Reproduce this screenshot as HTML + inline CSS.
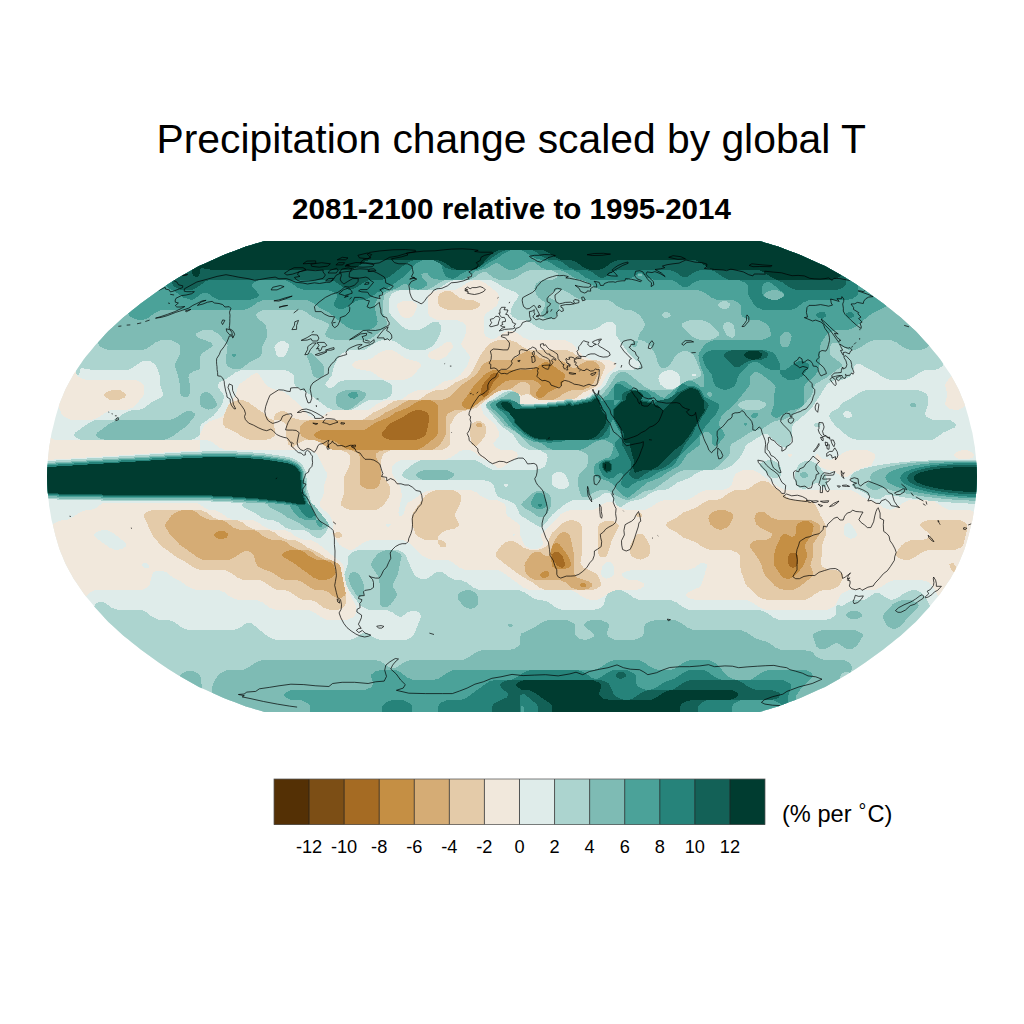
<!DOCTYPE html>
<html><head><meta charset="utf-8"><title>Precipitation change scaled by global T</title>
<style>
html,body{margin:0;padding:0;background:#fff;}
body{width:1024px;height:1024px;overflow:hidden;position:relative;font-family:"Liberation Sans",sans-serif;}
svg{position:absolute;left:0;top:0;}
text{font-family:"Liberation Sans",sans-serif;fill:#000;}
</style></head><body>
<svg width="1024" height="1024" viewBox="0 0 1024 1024">
<defs><clipPath id="rob"><path d="M759.5,712.0 L764.1,710.6 L768.8,709.2 L773.4,707.8 L778.1,706.4 L783.8,704.2 L789.5,702.1 L795.2,699.9 L800.9,697.7 L806.9,695.0 L813.0,692.3 L819.0,689.6 L825.0,686.9 L830.3,684.0 L835.6,681.0 L840.9,678.1 L846.1,675.1 L850.9,672.0 L855.7,668.9 L860.5,665.7 L865.3,662.6 L869.8,659.3 L874.3,656.1 L878.8,652.8 L883.3,649.5 L887.6,646.1 L891.8,642.7 L896.0,639.3 L900.3,635.9 L904.1,632.4 L907.9,628.9 L911.7,625.4 L915.6,621.9 L918.9,618.4 L922.2,614.8 L925.4,611.3 L928.7,607.7 L931.7,604.1 L934.6,600.5 L937.6,596.9 L940.5,593.3 L943.0,589.6 L945.4,586.0 L947.9,582.3 L950.4,578.7 L952.4,575.1 L954.4,571.4 L956.4,567.8 L958.4,564.1 L959.9,560.5 L961.4,556.8 L962.9,553.2 L964.4,549.5 L965.5,545.9 L966.6,542.2 L967.7,538.6 L968.7,534.9 L969.6,531.3 L970.5,527.6 L971.4,524.0 L972.4,520.3 L973.0,516.7 L973.6,513.0 L974.2,509.4 L974.9,505.7 L975.2,502.1 L975.6,498.4 L976.0,494.8 L976.3,491.1 L976.5,487.5 L976.7,483.8 L976.8,480.2 L977.0,476.5 L976.8,472.8 L976.7,469.2 L976.5,465.5 L976.3,461.9 L976.0,458.2 L975.6,454.6 L975.2,450.9 L974.9,447.3 L974.2,443.6 L973.6,440.0 L973.0,436.3 L972.4,432.7 L971.4,429.0 L970.5,425.4 L969.6,421.7 L968.7,418.1 L967.7,414.4 L966.6,410.8 L965.5,407.1 L964.4,403.5 L962.9,399.8 L961.4,396.2 L959.9,392.5 L958.4,388.9 L956.4,385.2 L954.4,381.6 L952.4,377.9 L950.4,374.3 L947.9,370.7 L945.4,367.0 L943.0,363.4 L940.5,359.7 L937.6,356.1 L934.6,352.5 L931.7,348.9 L928.7,345.3 L925.4,341.7 L922.2,338.2 L918.9,334.6 L915.6,331.1 L911.7,327.6 L907.9,324.1 L904.1,320.6 L900.3,317.1 L896.0,313.7 L891.8,310.3 L887.6,306.9 L883.3,303.5 L878.8,300.2 L874.3,296.9 L869.8,293.7 L865.3,290.4 L860.5,287.3 L855.7,284.1 L850.9,281.0 L846.1,277.9 L840.9,274.9 L835.6,272.0 L830.3,269.0 L825.0,266.1 L819.0,263.4 L813.0,260.7 L806.9,258.0 L800.9,255.3 L795.2,253.1 L789.5,250.9 L783.8,248.8 L778.1,246.6 L773.4,245.2 L768.8,243.8 L764.1,242.4 L759.5,241.0 L264.5,241.0 L259.9,242.4 L255.2,243.8 L250.6,245.2 L245.9,246.6 L240.2,248.8 L234.5,250.9 L228.8,253.1 L223.1,255.3 L217.1,258.0 L211.0,260.7 L205.0,263.4 L199.0,266.1 L193.7,269.0 L188.4,272.0 L183.1,274.9 L177.9,277.9 L173.1,281.0 L168.3,284.1 L163.5,287.3 L158.7,290.4 L154.2,293.7 L149.7,296.9 L145.2,300.2 L140.7,303.5 L136.4,306.9 L132.2,310.3 L128.0,313.7 L123.7,317.1 L119.9,320.6 L116.1,324.1 L112.3,327.6 L108.4,331.1 L105.1,334.6 L101.8,338.2 L98.6,341.7 L95.3,345.3 L92.3,348.9 L89.4,352.5 L86.4,356.1 L83.5,359.7 L81.0,363.4 L78.6,367.0 L76.1,370.7 L73.6,374.3 L71.6,377.9 L69.6,381.6 L67.6,385.2 L65.6,388.9 L64.1,392.5 L62.6,396.2 L61.1,399.8 L59.6,403.5 L58.5,407.1 L57.4,410.8 L56.3,414.4 L55.3,418.1 L54.4,421.7 L53.5,425.4 L52.6,429.0 L51.6,432.7 L51.0,436.3 L50.4,440.0 L49.8,443.6 L49.1,447.3 L48.8,450.9 L48.4,454.6 L48.0,458.2 L47.7,461.9 L47.5,465.5 L47.3,469.2 L47.2,472.8 L47.0,476.5 L47.2,480.2 L47.3,483.8 L47.5,487.5 L47.7,491.1 L48.0,494.8 L48.4,498.4 L48.8,502.1 L49.1,505.7 L49.8,509.4 L50.4,513.0 L51.0,516.7 L51.6,520.3 L52.6,524.0 L53.5,527.6 L54.4,531.3 L55.3,534.9 L56.3,538.6 L57.4,542.2 L58.5,545.9 L59.6,549.5 L61.1,553.2 L62.6,556.8 L64.1,560.5 L65.6,564.1 L67.6,567.8 L69.6,571.4 L71.6,575.1 L73.6,578.7 L76.1,582.3 L78.6,586.0 L81.0,589.6 L83.5,593.3 L86.4,596.9 L89.4,600.5 L92.3,604.1 L95.3,607.7 L98.6,611.3 L101.8,614.8 L105.1,618.4 L108.4,621.9 L112.3,625.4 L116.1,628.9 L119.9,632.4 L123.7,635.9 L128.0,639.3 L132.2,642.7 L136.4,646.1 L140.7,649.5 L145.2,652.8 L149.7,656.1 L154.2,659.3 L158.7,662.6 L163.5,665.7 L168.3,668.9 L173.1,672.0 L177.9,675.1 L183.1,678.1 L188.4,681.0 L193.7,684.0 L199.0,686.9 L205.0,689.6 L211.0,692.3 L217.1,695.0 L223.1,697.7 L228.8,699.9 L234.5,702.1 L240.2,704.2 L245.9,706.4 L250.6,707.8 L255.2,709.2 L259.9,710.6 L264.5,712.0Z"/></clipPath></defs>
<text id="title" x="511.2" y="152.6" font-size="40.82" text-anchor="middle">Precipitation change scaled by global T</text>
<text id="sub" x="511.5" y="219" font-size="29.57" font-weight="bold" text-anchor="middle">2081-2100 relative to 1995-2014</text>
<g clip-path="url(#rob)" shape-rendering="crispEdges">
<rect x="40" y="236" width="944" height="480" fill="#dfecea"/>
<path fill="#acd4cf" d="M66,240.5l886,0 0,5 -2,11 0,28 -2,12 0,28 -2,10 0,10 -2,10 0,8 -1,3 -4.5,3 -4,1.5 -8,0 -3,0.5 -4,2 -8,5.5 -4,1.5 -4,0.5 -12,0 -5,-1 -4,-2 -6,-4.5 -11,-5 -6,-4 -3,0 -2,2 -2.5,8 -2.5,3.5 -6,2.5 -10,1 -4,2 -2.5,2 -13.5,21 -10,10 -10.5,9 -1,2 0,9 -1.5,7 -1.5,3 -2.5,2 -2,0 -2,-0.5 -15,-12.5 -3,-1 -17,10.5 -2,2.5 -3,7 -2,3 -9,9 -5,3 -5,1.5 -16,0 -5,1 -4,2 -7,5 -12,4.5 -9,6 -4,1.5 -6,0 -4,1 -4,2 -7,5 -4,1.5 -9,1.5 -3,1.5 -5,3.5 -2,1 -2,-0.5 -1.5,-1 -1.5,-2 -3.5,-8 -2,-2 -2.5,-1 -3,0.5 -6,4.5 -5,2 -18,0.5 -4,0.5 -4,2 -3,2 -12,10 -9,11 -2,1 -2,0.5 -18,-11 -2,-2.5 -3,-7 -2.5,-3 -3.5,-2 -9,-3 -3.5,-2 -2,-3 -2.5,-8.5 -2,-2 -4,-2 -6,-1 -71,0 -3,-0.5 -4,-2 -1,-1 -0.5,-2 2,-3 10.5,-8.5 5,-2.5 4,-0.5 51,0 6,2.5 8,5.5 4,1.5 3,0.5 39,0 5,-1 5,-2.5 1.5,-3 1.5,-6 -0.5,-2 -1,-2 -5.5,-3 -12,-1 -6.5,-3 -2.5,-2.5 -6.5,-9.5 -11,-8 -3,-3 -12,-15 -1.5,-2 0,-2 2,-2 9,-5 7,-5 6,-2 5,1 4,2.5 1.5,2.5 0,7 2.5,0.5 11,0.5 1,-1 12,0 1,-1 8,-0.5 1,-0.5 7,-0.5 3,-2 5,0.5 1,0.5 4,0.5 1,-1 3,0 1,-1 4,0 1,-1 3,-0.5 3,-3 1,0 1,-1 4,-0.5 6.5,-7 5,-10 3.5,-3 6,-2.5 13,0 6,-2.5 1.5,-2 0,-2 -10.5,-9 -7.5,-10 -5.5,-9 -1,-10 -3,-3 -3,-1 -2,0 -3,1.5 -7,5 -6,2 -45,0 -6,-1 -3,-1.5 -9,-6 -4,-1.5 -7,-0.5 -5.5,-3 -1.5,-3 1,-6 2,-4 4.5,-6 0.5,-2 0,-1 -3,-2.5 -11,-4 -8,-5.5 -6,-2.5 -36,0 -6,2 -8,5.5 -6,2.5 -32,0 -4,0.5 -4,1.5 -2.5,1.5 -1.5,2 -1,2 -1,8 1,7 1.5,3 10.5,10.5 4,2.5 4,1.5 6,0 4,-0.5 5,-2 8,-5.5 3,-0.5 3,1 2.5,3 0,5 -2,6 -5,8 -3.5,3 -5,2 -4,0.5 -11,0 -6,-2 -7,-5 -4,-2 -4,-1 -7,0 -6,2 -8,5.5 -4,2 -4,0.5 -10,0 -4,1 -4.5,2.5 -3.5,4 -4.5,8 -2.5,10.5 -5,6 -1,2.5 1,2 1,1 3,0.5 3.5,-1.5 4.5,-4.5 7,-2 33,0 5,0.5 6,2.5 1.5,1.5 1,2 0,5 -0.5,3 -1.5,2 -3.5,2 -5,1.5 -10,0 -4,0.5 -4,2 -7,5 -5,2 -4,0.5 -14,0 -6,-2.5 -20,-14.5 -11.5,-6.5 -2,-3 -0.5,-8 -1.5,-2 -3.5,-2 -3,-1 -4,-0.5 -40,0 -6,2.5 -7,5 -9,5 -2,2 0,1 0.5,2 4.5,6 1,2 0,3 -1.5,6 -2,3 -6.5,8 -12.5,9 -1,2 -0.5,8 -1.5,2 -3.5,2 -3,1 -4,0.5 -106,0 -6,-2.5 -1,-1 -0.5,-2 1.5,-2 14,-10 4,-2 3,-0.5 17,-0.5 5,-2 6,-4.5 4,-2 4,-1 6,0 4,-1.5 3,-1.5 6,-4.5 9,-5 2,-2 0.5,-2 -3,-9 -0.5,-10 -2.5,-7 -3,-4 -3.5,-2 -3,-1 -3,0 -3,1 -9,6 -4,2 -3,0.5 -32,0 -8,-1 -4,-1.5 -1,1.5 -1,4.5 -1,1.5 -1,0 -1,-1 -2,-7 -2.5,-12.5 0,-19 -2,-11 0,-19 -2,-12 0,-28 -2,-12zM279.5,341.5l-2,1 -2,2 -1,3 2,7 2,2.5 3,0.5 2.5,-1 2,-2 2.5,-6 0.5,-3 -1,-2 -3.5,-2 -2,-0.5zM666.5,370.5l-5,2 -2.5,3 -0.5,3 2,6 3,3 5,2 4,-0.5 4,-1.5 2.5,-2 1,-2 0,-6 -1,-3 -2.5,-2 -4,-2 -3,-0.5zM693,373.5l-1,1 0.5,1.5 2,0.5 1,-0.5 0.5,-0.5 -0.5,-1.5 -1,-0.5zM558,471.5l-3.5,1.5 -2,2 -0.5,4.5 0.5,5 1.5,2 3.5,2 3,1 3,-0.5 3,-1.5 2,-2 0.5,-2 -0.5,-2 -2,-5 -2,-2.5 -4,-2.5zM505,483.5l-1,1 -0.5,1 1,1 1,0.5 1.5,-0.5 1,-1 0,-1 -1.5,-1zM864.5,390.5l5,-0.5 46,0 6,1 4.5,2.5 2,3 0,8 -3,9 0.5,2 0.5,1 3.5,2 4,1.5 13,0 4,0.5 5,3 0.5,2 -1.5,2 -11,5 -7,5 -4,2 -3,0.5 -71,0 -6,-1 -4.5,-2.5 -13,-11 -5,-7 -1,-3 2,-3 3.5,-2.5 4,-2 2.5,-3.5 2.5,-2 9,-5 7,-5zM844.5,411.5l-1.5,2 0.5,2 1,1.5 2,1 2,0 3,-1.5 0.5,-2 -1.5,-2 -3,-1.5zM816.5,422.5l2,0 1.5,1 0.5,1 -1,2 -2,1 -2,-0.5 -1.5,-1.5 0.5,-2zM201.5,451.5l33,-0.5 4,1 12,0 4,1 9,0 3,1 4,0 3,1 4,0 3,1 8,1 4.5,1.5 5.5,3 4,4 3,5 0.5,6 1,4 0,8 3.5,11 0.5,3 5,5 11,14 2,3 -0.5,3 -3.5,6 -3.5,3.5 -2,1 -2,0 -3,-1 -6,-4.5 -4,-2 -4,-0.5 -8,0 -4,-1 -3,-1.5 -6,-4.5 -3,-1.5 -4,-1.5 -6,-0.5 -5,-2 -7,-5 -11,-5 -1.5,-2 0.5,-2 -1,-0.5 -9,0 -4,-1 -16,0 -4,-1 -106,0 -4,-1 -40,0 -4,-1 -14,0 0,-38 13,0 4,-1 12,0 3,-1 12,0 4,-1 12,0 4,-1 12,0 4,-1 12,0 4,-1 11,0 4,-1 11,0 4,-1 12,0 4,-1 17,0zM928.5,459.5l56,0 0.5,8 -0.5,36 -17,0 -1,-1 -16,0 -1,-1 -12,0 -1,-1 -9,0 -1,-1 -8,0 -1,-1 -6,0 -1,-1 -6,0 -1,-1 -5,0 -1,-1 -5,0 -1,-1 -4,0.5 -1,-0.5 -2.5,2 -3.5,2 -3,1 -2,-0.5 -4,-1.5 -7,-5 -11,-5 -1.5,-2 0,-1 1,-2 -1.5,-0.5 -1,-3.5 -1,-1 1,-1 0,-1 4,-4 1,0 1,-1 2,0 3,-2 2,0 1,-1 3,0 1,-1 3,0 1,-1 4,0 1,-1 5,0 1,-1 6,0 1,-1 8,0 1,-1 10,0 1,-1 17,0zM766.5,460.5l3,-0.5 3,0.5 4,2 2.5,2 1.5,3 1,5 -0.5,2 -1,2 -4,2 -3.5,-0.5 -4,-2.5 -8,-8 -1,-2 1,-2 2,-1.5zM807.5,460.5l4,0.5 4.5,2.5 3,3 5.5,7 1.5,3 1.5,6 -0.5,2 -1.5,2 -1,0.5 -2,-0.5 -4,-3 -3,-0.5 -8,5 -4,1 -4,-1.5 -3,-2.5 -1,-3.5 -1,-6 2.5,-8 1.5,-2.5 2,-2 3,-1.5zM356.5,550.5l4,-0.5 32,0 6,0.5 4,2 3,2.5 8.5,19.5 2.5,2.5 4,2 2,0.5 3,-0.5 4,-2 7,-5 2,-0.5 2,0 3,1.5 7,5 4,1.5 6,0.5 4,1.5 3,1.5 6,4.5 4,2 5,0.5 33,0 4,0.5 5,2 9,6 3,1 9,1.5 4,2 7,5 6,2 29,0 6,-1 4,-2 2,-2 2.5,-8.5 2,-3 5.5,-3 5,-0.5 3,0.5 4,1.5 8,5.5 6,2.5 28,0 4,0.5 5,2 8,5.5 5,2 70,0 6,2 8,5.5 6,2.5 45,0 6,-1.5 4.5,-3 1,-2 0.5,-7 1,-1.5 1,0 3,1 1,0 5,-3.5 4,-2 13,-1 4,-2 7,-5 3,0 8,5.5 3,1.5 3,0 6,-2 6,-4.5 4,-2 4,-1 4,0.5 4,2 3.5,3 4.5,7 1.5,4 0,9 2,10 0,10 2,11 0,27 2,14 0,32 -850,0 0,-33 2,-12 0,-18 2,-12 0,-20 4,-18 2,-3 3.5,-2 2,0 2,0.5 8,5.5 5,2 4,0.5 18,0 4,0.5 4,2 6,4.5 3,1.5 4,1.5 8,0 4,1 4,2 7,5 6,2 45,0 6,-2 7,-5 3,-0.5 3,1.5 16,13 4,2 4,1 73,0 6,-2 7,-5 2,-0.5 3,0.5 7,5 6,2 23,0 3,-0.5 4,-2 2.5,-2 1.5,-2 6,-15 0.5,-3 -1.5,-2.5 -4,-2 -4,0 -4,1.5 -6,4 -2,0.5 -2,-1 -5,-3.5 -5,-2 -16,-0.5 -4,-0.5 -4,-2 -3,-2 -10,-13 -4.5,-8 -1.5,-7 0,-3 3,-9 1,-10 3,-3z"/>
<path fill="#7ebbb4" d="M90,240.5l846,0 0,23 -2,13 0,28 -2,10 0,10 -2,10 0,9 -1,2 -1.5,1.5 -3,1.5 -4,1.5 -10,0 -6,-2 -8,-5.5 -5,-2 -4,-0.5 -12,0 -3,0.5 -4,1.5 -10,6.5 -4,1.5 -3,0 -3,-0.5 -4,-1.5 -8,-5.5 -2,0 -2,0.5 -1.5,1.5 -1,2 0,5 0.5,3 1.5,2 9.5,7 0.5,1 -0.5,2 -14,10.5 -12,7 -1.5,2.5 -2,8 -3,4 -5.5,7 -13.5,11 -5.5,3 -10,1.5 -3,1.5 -9,6 -12,3.5 -8,5.5 -10.5,6 -2,3 0,6 -1,3 -8.5,9 -4,3 -4,2 -3,0.5 -24,0 -5,1 -4.5,2.5 -19.5,14 -4,2 -9,2 -9,6 -5,2 -3,0.5 -4,-1 -4,-2 -7,-5 -4,-1.5 -3,-0.5 -4,0 -4,1 -4,2 -5,4 -3,0.5 -2.5,-1 -2,-3 -2,-8 0,-7 1,-4 7.5,-8 1,-2 0.5,-7 -0.5,-2 -1.5,-2 -3.5,-2 -5,-1.5 -36,0 -3,-0.5 -4,-1.5 -4,-2.5 -12.5,-12 -13.5,-8 -9,-11 -8.5,-7 -1,-2 0,-1 1.5,-2 2,-1 9,-2.5 2,-1.5 3,-0.5 5,-4 4,-1.5 3,0.5 3.5,2.5 1,2 0,7 3.5,1 10,0 1,-1 12,0 1,-1 8,0 1,-1 7,0 3,-2 5,0 1,1 4,0 1,-1 3,0 1,-1 4,0 1,-1 3,0 3,-3 1,0 1,-1 4,0 2,1.5 1,0.5 8,-10 7,-10.5 3,-2.5 3,-1 3,0.5 2.5,1.5 17.5,14 4,2 4,0.5 15,0 4,-0.5 4,-2 8,-5.5 4,-1.5 7,-1.5 4.5,-2.5 1,-2 0,-2 -6.5,-16 -3,-3.5 -5,-2 -4,0 -4.5,2.5 -3,3 -5,8 -3.5,3 -3,0.5 -2,-0.5 -2,-1.5 -1.5,-2.5 -2.5,-9 -5.5,-9 -5.5,-4.5 -6.5,-1.5 1,-5 5,-7 1,-3 -1,-3 -4,-6 -4.5,-3.5 -4,-1.5 -6,-0.5 -4,-1.5 -3,-1.5 -6,-4.5 -4,-2 -4,-0.5 -20,0 -4,-0.5 -5,-2 -9,-6 -4,-1.5 -4,0 -3,0.5 -4,2 -2,2 -0.5,2 0.5,1.5 5,2.5 4.5,4 0.5,3 -2,7 -2,2.5 -4,2 -3,0.5 -3,-1 -3.5,-2 -1,-2 0.5,-2 3.5,-6 0.5,-3 -1,-1.5 -6,-4.5 -2,-3 -2,-6 0.5,-3 1,-2 3.5,-2 4,-1.5 9,-0.5 4,-2 1.5,-2 -0.5,-2 -3,-2 -4,-1.5 -4,0 -18,0.5 -5,2 -8,5.5 -4,1.5 -3,0.5 -7,0 -4,-0.5 -4,-2 -7,-5 -3,-0.5 -3,1 -6,4.5 -5,2 -4,0.5 -18,0 -4,0.5 -4,2 -7,5 -6,2.5 -31,0 -5,1 -4,2 -2,2.5 -2,8 0,3 1,7 3.5,9 -0.5,3 -1.5,2 -11,9 -3.5,2 -4,1.5 -31,0 -6,-1.5 -3.5,-2 -1,-2 0.5,-2 3,-6 0,-2 -0.5,-1 -3.5,-2 -10,-3.5 -8,-5.5 -4,-2 -5,-0.5 -34,0 -5,2 -2.5,2.5 0,1 1,2 8.5,7.5 2,7.5 -0.5,4 -4.5,9 -1,9 -3,3 -9,5 -6,4.5 -4,2 -3,0.5 -3,-0.5 -4,-1.5 -2.5,-2 -1,-3 0,-5 1.5,-12 -2.5,-4 -7,-8 -5.5,-3 -5,-0.5 -6,0.5 -5,3 -0.5,2 1.5,2 13.5,5 1,1 0.5,2 -2,2 -8.5,6 -1.5,2 -1,14 -6,1.5 -4.5,3.5 -0.5,3 1.5,8 0,8 -2,3 -3.5,1 -3,-1.5 -1.5,-2.5 0,-8 -1,-5 -1.5,-6 -2.5,-8 0,-3 4,-7 1,-4 -0.5,-7 -3,-3 -6,-2.5 -9,0 -6,2.5 -9,6 -3,1 -4,0.5 -31,0 -6,-2 -2.5,-1.5 -1.5,-2 -1.5,-4 -3,-16 0,-19 -2,-11 0,-19 -2,-12zM721.5,301.5l-2,1 -1.5,2 0.5,2 3,2 2,0.5 3,-0.5 2,-1 1.5,-2 -0.5,-2 -3,-2 -2,-0.5zM664,312.5l-1.5,1 -0.5,2 2,2 1.5,0.5 2,0 2,-1.5 1,-1 -1,-2 -1.5,-1 -1.5,-0.5zM688.5,320.5l-5,2 -1.5,1 -0.5,2 1,2 7,7 5,3.5 6,2 9,0 5,-1.5 4,-3 0.5,-2 -1,-2 -6.5,-7 -4,-2.5 -6,-2 -10,0zM727.5,322l-3.5,1.5 -1,2 -0.5,2 1,2 2,4 2,2.5 3,1.5 2,0 2,-2 1,-2 -1,-5 -1,-3 -1.5,-2 -2.5,-1.5zM744.5,400.5l-5,2 -1.5,2 0,1 1.5,2 5,2 4,0.5 10,0 5,-2 2.5,-2.5 -0.5,-2 -1,-1 -5,-2 -10,-0.5zM635.5,340.5l2.5,0 -0.5,3 -1,2 -1,1 -2,0.5 -2,-1.5 0.5,-2 1.5,-2zM308.5,353.5l2,-0.5 2,1 8,7.5 2.5,3 1,3 0,6 -1,2 -2.5,2 -2,0.5 -2,0 -2.5,-1.5 -1.5,-2 -2.5,-10 -3,-8 0.5,-2zM344.5,390.5l8,-0.5 7,0.5 5,2 1,1 0.5,2 -2,3 -10.5,8.5 -5,2.5 -4,0 -4,-1.5 -3,-2 -1.5,-2.5 0,-3 0,-4 1,-2 2.5,-2zM204.5,392l2,0 3,1 4,4.5 3,6 0,2 -2,2 -3,1.5 -3,0.5 -5,-1.5 -2.5,-1.5 -1,-3 0,-7 1.5,-2.5zM912.5,402.5l2,0.5 1.5,1.5 -0.5,2 -2,1 -2,-0.5 -1.5,-1.5 0.5,-2zM186.5,411l5,0.5 3,2 0.5,2 -2,3 -7,8 -14.5,10.5 -6,2.5 -5,0.5 -55,0 -6,-1.5 -2,-1 -1.5,-2 0,-1 1.5,-2 13,-9.5 6,-2.5 4,-0.5 49,0 7,-2.5 7,-5zM200.5,453.5l3,-1 31,0 3,1 13,0 3,1 9,0 3,1 5,0.5 2,0.5 5,0.5 2,0.5 4,0.5 2,0.5 3,0.5 8,3 4.5,4.5 3,5 0.5,6 1,3 0,9 4,12 5,4 10,12.5 3.5,4.5 0.5,2 0,1 -3,2.5 -5,2 -7,0 -4,-0.5 -4,-2 -7,-5 -11,-5 -7,-5 -11,-5 -1,-1 -1,-2 -3,-1 -7,-0.5 -2,-0.5 -10,0 -3,-1 -10,0 -3,-1 -17,0 -3,-1 -107,0 -3,-1 -41,0 -3,-1 -15,0 0,-35 14,0 3,-1 13,0 2,-0.5 13,-0.5 3,-1 13,0 3,-1 13,0 3,-1 13,0 3,-1 12,0 3,-1 12,0 3,-1 13,0 3,-1zM929.5,461l55,0 0.5,6.5 -0.5,33.5 -15,0 -1,-1 -16,0 -1,-1 -10,0 -1,-1 -8,0 -1,-1 -7,0 -1,-1 -6,0 -1,-1 -5,0 -1,-1 -4,0 -1,-1 -4,0 -1,-1 -4,0 -1,-1 -3,0 -1,-1 -2,0 -1,-1 -2,0 -1,-1 -2,0 -1,-0.5 -6,2.5 -3,0 -5,-2 -2.5,-2.5 0.5,-2 4.5,-3 0,-1 -1,-1 0,-2 1,-1 0,-1 2.5,-2.5 1,0 5,-3 2,0 1,-1 3,0 1,-1 3,0 1,-1 4,0 1,-1 4,0 1,-1 6,0 1,-1 8,0 1,-1 12,0zM422.5,470.5l5,-0.5 19,0 6,2.5 1,1 0.5,2 -2.5,2.5 -5,2 -23,0 -5,-2 -2.5,-2.5 0.5,-2 1,-1zM802.5,472l3,0 2,1.5 0.5,1 -0.5,2 -3,1.5 -2,0 -2,-1.5 -0.5,-2 0.5,-1zM539.5,490.5l5,1 4.5,3 1.5,3 1,6 -0.5,3 -4,7 -3,3 -2.5,1 -3,-0.5 -6,-4.5 -9,-5 -1,-1 -1,-2 2,-3 8,-7.5 4,-2.5zM384.5,550.5l6,-0.5 5,1 4.5,2.5 1.5,3 -3.5,17 -5,11 0.5,3 3.5,6 0,2 -2,3 -4.5,6 -3,2.5 -2,0.5 -3,-0.5 -2,-2.5 -0.5,-3 0,-16 -1.5,-8 -2,-4 -5,-7 -0.5,-2 1.5,-4 4.5,-6 3.5,-2.5zM352.5,572l3,0 3.5,2.5 2,3 2.5,6 0.5,4 0,6 -1,2 -2.5,1.5 -2,-0.5 -2.5,-2 -6,-10 -1.5,-6 0.5,-3 1,-2zM464.5,590.5l3,-0.5 3,0.5 4,2 2.5,2 1,3 0,6 -1,2 -2.5,2 -4,1.5 -4,-1 -4,-3 -4,-5.5 -1,-3 0,-2 2,-2zM900.5,600.5l6,-0.5 5,0.5 5,2 1,1 1,2 -1,2 -8,8 -8,10 -5,3 -4,0.5 -4,-2 -2.5,-2.5 -2.5,-6 -0.5,-3 1.5,-3 8,-8 4,-2.5zM853.5,610.5l3,0.5 4,1.5 1.5,2 -0.5,2 -4,2.5 -4,0.5 -4,-1 -3,-2 -0.5,-2 0.5,-1 3,-2zM546.5,620.5l4,-0.5 14,0 3,0.5 4,1.5 2.5,1.5 1,2 -0.5,8 1,2 4,3 5,1.5 3,-0.5 4,-1.5 2,-1.5 0.5,-2 -1.5,-2 -8,-6 -1,-1 1,-2 3,-2 4,-1.5 6,0 4,0.5 5,2 2,2 0.5,2 -2,6 0,2 1,2 1.5,1 4,2 3,0.5 13,0 6,-0.5 4,-1.5 2.5,-1.5 2,-3 0.5,-8 1.5,-2 3.5,-2 6,-1.5 19,0 5,2 8,5.5 6,2.5 44,0 4,0.5 5,2 9,6 12,3.5 8,5.5 4,2 4,0.5 19,0 7,1 3,1 2.5,3.5 2.5,2 5,2 3,0.5 15,0 4,0.5 4,2 2.5,2 0.5,2 0,3 -1,4 -3,-2 -2,0 -3.5,2 -2,3 0,43 -628,0 0.5,-34 1.5,-4 4.5,-6.5 3,-2.5 4,-2 4,-0.5 14,-0.5 5,-2 8,-5.5 4,-1.5 3,-0.5 111,0 6,1.5 9,6 4,1 3,-1 8,-5.5 6,-2 52,0 5,-2 8,-5.5 5,-2 4,-0.5 24,0 6,-1.5 3.5,-2 1.5,-2 0.5,-8 1.5,-3 13,-6 7,-5zM509.5,623.5l1.5,0 1,1 0.5,1 -1,1 -2,0.5 -1.5,-1.5 0,-1zM820.5,630.5l5,-0.5 29,0 4,1.5 3,2 1,1 0,2 -5,8.5 -3,2.5 -3,1.5 -3,0.5 -3,-1 -7.5,-5 -2.5,-0.5 -9,5.5 -3,0.5 -3,0 -2,-0.5 -2,-2 -3.5,-10 0.5,-2 1,-1.5zM189.5,670.5l3,0.5 4,1.5 2.5,2 1.5,3 1.5,9 0,33 -26,0 0,-24 3.5,-18 1,-2.5 2,-2 3,-1.5z"/>
<path fill="#4ba299" d="M122,240.5l770,0 0,23 -2,11 0,10 -2,10 0,8 -1,3 -3.5,2.5 -11,5 -16,13 -3,2 -6,2 -13,0.5 -5,2 -3.5,3 -4.5,7 -1,3 -0.5,18 -2.5,8 -2.5,4 -9,8 -1.5,2 -0.5,3 0,14 -0.5,2 -1.5,2 -4.5,2.5 -7,1.5 -4,1.5 -9,6 -2,0 -3,-1.5 -1,-1 -0.5,-2 3,-9 0,-9 1.5,-8 -0.5,-2 -2.5,-3 -13,-9.5 -3,-1 -3,0.5 -3,3 -0.5,8 -2,4 -13.5,17 -10.5,9 -2.5,3 -2.5,6 0,3 5,7 1,3 -2,3 -5,6 -2.5,1.5 -2,-0.5 -1,-2 -0.5,-7 -1,-2 -1.5,-1.5 -2,-1 -2,0 -2,0.5 -3,3 -0.5,8 -1,2 -12,9 -6,9 -2.5,2.5 -12,7 -6,4.5 -13,5 -17,13.5 -2,1.5 -2,0 -4,-2 -10.5,-12 -3.5,-2 -11,-4 -2.5,-2 -1,-2 0,-6 1.5,-3.5 6,-4 3,-1.5 4,-1 3,-3 1,-3 1,-5 -1,-2 -2,-2 -6,-2.5 -6,0.5 -5,2 -8,5.5 -6,2 -23,0 -5,-0.5 -4,-2 -6,-4.5 -8,-1.5 -8,-3 -3.5,-2 -13.5,-11 -9,-11 -8.5,-7 -1,-2 0,-1 1.5,-2 2,-1 9,-3 6,0 8,4 4,3 13,0 3,-1 10,0 3,-1 6,0 2,-1 6,0 5,-2 2,0 2,1 4,0 6,-2 3,0 2,-1 2,0 3,-2.5 4,-1.5 2,0.5 4,3.5 5,-3.5 7.5,-10.5 2.5,-2 4,-1.5 2,0 3,1.5 7,5 4,2 3,0.5 8,0 4,1.5 3,1.5 5,4 2,0.5 2,0 1.5,-1 16,-13 5.5,-2.5 3,0 4,1 2,1.5 4,3.5 2,0.5 1,-1 0.5,-2 0,-9 -4,-11 -1.5,-9 1,-3 3,-5 3.5,-4 4.5,-2.5 5,-1 46,0 6,-2 3.5,-2.5 0,-2 -1.5,-5 -1.5,-3 -2.5,-2.5 -6,-2.5 -11,-1 -4,-1.5 -2.5,-1.5 -1.5,-3 0.5,-8 -2.5,-3 -6,-2.5 -13,0 -4,-0.5 -4,-2 -8,-5.5 -6,-2 -96,0 -6,-2.5 -9,-6 -12,-3.5 -10,-6.5 -5,-1.5 -10,0 -4,-0.5 -4,-2 -7,-5 -4,-1 -3,1 -8,5.5 -4,1.5 -3,0.5 -3,0 -4,-1.5 -7.5,-5 -2.5,-0.5 -8,5 -12,3.5 -9,6 -4,2 -3,0.5 -18,0 -7,-1 -3,-1 -4,-4.5 -2,-1 -2,0.5 -2,1.5 0,2 2,2.5 2.5,2.5 1,2 -0.5,2 -3,2.5 -4,1.5 -3,0 -5,-2 -5,-3.5 -2,-0.5 -8,5 -10,2.5 -3,1.5 -2.5,2 -5,7 -1.5,4 3,16 -0.5,3 -2.5,3 -6,2.5 -14,0 -6,-2 -3,-2 -16,-13 -10,-5.5 -8,-5.5 -4,-1.5 -3,-0.5 -41,0 -6,2.5 -8,5.5 -6,2 -81,0 -3,0.5 -4,2 -6,4.5 -3,1.5 -4,1.5 -4,0 -5,-1.5 -3.5,-2 -2,-3 -1,-4 -3,-14 0,-20 -2,-11zM639,273.5l-1,1 0.5,1.5 1,0.5 2,-0.5 0.5,-0.5 -0.5,-1.5 -1,-0.5zM770.5,290.5l-5,2 -1.5,2 0.5,2 4,2.5 4,1 5,-0.5 5,-2 1.5,-2 -0.5,-2 -4,-2.5 -4,-1zM783.5,332.5l-3,3 -0.5,7 0.5,2 1.5,2 3.5,1 2.5,-1 1.5,-2 1,-3 1,-5 -1,-2 -2,-2 -3,-0.5zM707.5,392.5l-0.5,2 1.5,2 2,0.5 1.5,-1.5 0,-2 -1.5,-1 -2,-0.5zM233.5,353.5l1.5,0 1,1 0,1 -1.5,1 -1.5,0 -1,-1 0,-1zM352.5,391.5l4,1 1.5,2 -0.5,2 -3,2 -2,0 -2,-0.5 -2.5,-2.5 0.5,-2zM754.5,412.5l3,1 0.5,2 -2.5,2.5 -3,0.5 -1,-1 -0.5,-2 1.5,-2zM744.5,423l1,-0.5 1.5,1 -0.5,1 -1,1 -1,0 -0.5,-1zM202.5,454l32,0 3,1 13,0 3,1 9,0 3,1 4,0 3,1 4,0 3,1 3,0 3,1 3,0 8,3.5 4,4 2.5,4 0,6 1,3 0,9 4,11 0,3 3,3 4,7 1,3 0,3 -1.5,0.5 -8,0 -3,-0.5 -4,-2 -4,-3 -4.5,-6 -1.5,-3 -1,-0.5 -4,0 -2,-1 -6,0 -3,-1 -6,0 -3,-1 -6,0 -3,-1 -10,0 -3,-1 -10,0 -3,-1 -17,0 -3,-1 -107,0 -3,-1 -41,0 -3,-1 -15,0 0,-32 14,0 3,-1 13,0 3,-1 12,0 3,-1 13,0 3,-1 13,0 3,-1 13,0 3,-1 12,0 3,-1 12,0 3,-1 13,0 3,-1 18,0zM944.5,462l40,0 0,36 -26,0 -1,-1 -11,0 -1,-1 -8,0 -1,-1 -6,0 -1,-1 -5,0 -1,-1 -5,0 -1,-1 -4,0 -1,-1 -3,0 -1,-1 -3,0 -1,-1 -2,0 -1,-1 -2,0 -1,-1 -2,0 -1,-1 -1,0 -1,-1 -1,0 -1,-1 -3,-1 -1.5,-1.5 0,-1 -2,-3 1,-1 0,-1 3.5,-3.5 1,0 3,-2 2,0 1,-1 2,0 1,-1 3,0 1,-1 4,0 1,-1 4,0 1,-1 6,0 1,-1 8,0 1,-1 14,0zM538.5,492.5l3,0.5 2,2 2,3.5 1.5,5 -0.5,2 -1,1.5 -3,1.5 -3,1 -3,-0.5 -3,-1.5 -1.5,-1 -1,-2 0.5,-3 2.5,-6 2,-2zM316.5,520l3,0.5 2,2 1,2 -1,2 -2,0.5 -2,-1.5 -1.5,-3zM612.5,660.5l5,-0.5 21,0 6,2.5 6,4.5 4,2 4,1 8,0 4,0 4,-1.5 9,-6 5,-2 4,-0.5 16,0 4,1.5 4,2.5 11.5,12.5 3.5,2 5,1.5 10,0 4,-0.5 4,-2 8,-5.5 4,-1.5 3,-0.5 34,0 3,0.5 4,2 1,1 1,2 -1,2 -10,10.5 -5,7.5 -0.5,24 -486,0 0,-12 -0.5,-2 -1.5,-2 -2.5,-1.5 -4,-1.5 -12,-1 -4,-2 -1.5,-2 0.5,-2 1,-1 4,-2 3,-0.5 68,0 5,-0.5 5,-2 2,-2 0.5,-3 -2,-6 0.5,-2 4,-3 5,-1.5 12,0 4,0.5 4,2 7,5 6,2.5 19,0 6,-1.5 9,-6 4,-2 3,-0.5 138,0 3,-0.5 4,-1.5 8,-5.5z"/>
<path fill="#26837a" d="M160,240.5l1.5,0 700.5,0 0,5 -2,10 0,10 -2,10 0,17 -0.5,2 -1.5,2 -3.5,2 -5,1.5 -38,0 -6,2.5 -6,4.5 -4,2 -4,1 -5,0 -20,0 -3,-0.5 -4,-2 -3.5,-3 -5,-8 -1,-3 0,-7 -1,-2 -2.5,-2 -5,-2 -4,-0.5 -35,0 -6,2 -7,5 -3,0.5 -2.5,-1 -5.5,-4 -4,-2 -4,-0.5 -16,-0.5 -5,-2 -5,-3.5 -2,-1 -2.5,0.5 -6.5,4.5 -5,2 -35,0 -6,-2.5 -6,-4.5 -3,-1.5 -4,-1.5 -8,0 -4,-1 -3,-1.5 -9,-6 -13,-3 -4,-2 -6,-4.5 -4,-1.5 -4,-0.5 -6,0 -4,1.5 -3,1.5 -6,4.5 -10,5.5 -7,5 -5,2 -6,0 -4,1 -4,2 -6,4.5 -4,1.5 -4,-1 -3.5,-2.5 -1,-2 -2.5,-8 -3,-3 -4,-2 -3,-0.5 -6,0 -4,0.5 -6,3.5 -10,11.5 -17,12 -11,5 -8,5.5 -4,1.5 -6,0.5 -4,1.5 -3,1.5 -6,4.5 -5,2 -4,-1 -2,-1 -2,-2 0,-2 3,-6 0.5,-2 -1,-2 -2.5,-1.5 -6,-2 -21,0 -4,-0.5 -5,-2 -8,-5.5 -4,-1.5 -3,-0.5 -22,0 -3,0.5 -4,2 -2,2 0.5,2 5.5,6 1,2 0,1 -2,2 -5,2 -5,0.5 -27,0 -5,-2 -7,-5 -3,-0.5 -2,0.5 -7,5 -3,1.5 -3,0 -6,-2 -7,-5 -9,-5 -3,-3 -1.5,-4 -3,-16zM765.5,282.5l-2.5,2 -1,3 0,6 2,3 4.5,2.5 5,1 5,-0.5 5,-3 0.5,-1 0,-2 -11.5,-9.5 -4,-2zM820.5,311.5l4,1 1.5,2 -0.5,2 -3,2 -2,0 -2,-0.5 -2.5,-2.5 0.5,-2zM848.5,312l3,0 2,1.5 0.5,1 -0.5,2 -3,1.5 -2,0 -2,-1.5 -0.5,-2 0.5,-1zM710.5,350.5l4,-0.5 47,0 6,0.5 5,2 3.5,3 3.5,8 0.5,6 -0.5,0.5 -5,0 -5,-0.5 -4,-2 -8,-5.5 -2,-0.5 -2,0 -5,3 -9,9 -1.5,3 -2,7 -2,3 -2.5,1.5 -4,1.5 -5,0 -5,-2 -2.5,-2 -1,-2 -2.5,-9 -6,-8 -1.5,-3 -1.5,-6 1,-3 2,-2zM797.5,361.5l3,-1 2,0.5 4,1.5 2,2 0,3 -5.5,8 -4.5,3 -6,1.5 -5,-0.5 -5.5,-3 -1.5,-3 -0.5,-3 0.5,-0.5 4,0 2,-1 7.5,-5.5zM616.5,383.5l3,0 6,4 5,2 11,0.5 5,1.5 4,3 2,5.5 12,0 6,-2.5 3.5,-3 6,-9 2.5,-2 2,0.5 3,2 2,-0.5 4,0.5 6,2.5 1.5,2 3.5,6.5 11,5 2.5,1.5 1,2 0,2 -4,8 -9,10 -6.5,10 -19,19 -5.5,9 -2.5,2.5 -4,2.5 -10,3.5 -9,6 -12,3.5 -4,2 -5,4 -3,0.5 -3,-1.5 -1.5,-2 0,-2 2,-6 -0.5,-2 -1,-1 -1,-0.5 -2,0.5 -4,3.5 -2,1 -3,0.5 -2,0 -3,-1.5 -2,-2 -3.5,-7.5 0.5,-3 2,-3 3,-1.5 6,0 4,-1.5 3.5,-2 1,-2 -0.5,-2 -3.5,-6 0,-2 0.5,-2 5,-6 1,-2 -1,-2 -3.5,-5 -3.5,-7 -1,-1 -2.5,6 -0.5,10 -1,1.5 -2,1 -8,2 -34,0.5 -3,1 -7,0 -3,1 -5,0 -2,-1 -6,0 -5,-1.5 -4,-2 -7,-4.5 -3,-3 -6.5,-5 -7,-10 -9,-8 -1,-2 0.5,-2 5,-3.5 1,-0.5 6,0.5 5,1 4,2 5,3.5 11,0 3,-1 10,0 3,-1 6,0 3,-1 6,0 4,-2 2,0.5 2,1.5 1,-0.5 8,-1.5 1,-0.5 8,-1.5 3,-2.5 3,-1.5 2,1 2,2 1,3 5,-1.5 7,0 0.5,-0.5 0,-13 1,-2zM614,400.5l0,4 0.5,1 5,-5 -5,-0.5zM649,400.5l1.5,0 1.5,0 -0.5,-0.5zM203.5,455.5l31,0 2,0.5 14,0.5 2,0.5 10,0.5 2,0.5 5,0.5 2,0.5 5,0.5 2,0.5 4,0.5 2,0.5 3,0.5 8,3 4,4 2,3 0.5,7 0.5,2 0.5,10 4,12 3,3 3.5,5 1,3 0,2 -3,2.5 -2,0 -2,-0.5 -2.5,-2 -3.5,-4 -4,-5.5 -3,-1 -3,-0.5 -2,-0.5 -4,-0.5 -2,-0.5 -7,-0.5 -2,-0.5 -7,-0.5 -2,-0.5 -7,-0.5 -2,-0.5 -11,-0.5 -2,-0.5 -11,-0.5 -2,-0.5 -18,-0.5 -3,-1 -107,0 -3,-1 -41,0 -2,-0.5 -16,-0.5 0,-29 15,-0.5 2,-0.5 14,-0.5 2,-0.5 13,-0.5 2,-0.5 14,-0.5 2,-0.5 13,0 3,-1 14,-0.5 2,-0.5 12,0 3,-1 13,-0.5 2,-0.5 14,-0.5 2,-0.5 19,-0.5zM953.5,463l31,0 0,34 -17,0 -1,-1 -12,0 -1,-1 -8,0 -1,-1 -6,0 -1,-1 -5,0 -1,-1 -4,0 -1,-1 -3,0 -1,-1 -3,0 -1,-1 -3,0 -1,-1 -2,0 -1,-1 -1,0 -1,-1 -1,0 -1,-1 -3,-1 -3.5,-3.5 0,-1 -1,-1 1,-3 3.5,-3.5 1,0 1,-1 2,0 3,-2 3,0 1,-1 3,0 1,-1 4,0 1,-1 5,0 1,-1 8,0 1,-1 13,0zM539.5,503.5l1.5,0 1,1 0,1 -1.5,1 -1.5,0 -1,-1 0,-1zM528.5,670.5l5,-0.5 44,0 6,2 8,5.5 3,1.5 2,0 4,-1.5 7,-5 4,-2 4,-0.5 11,0 5,2 3.5,2.5 1,2 0,7 2,3 4.5,2.5 5,1 4,-0.5 4,-1.5 9,-6 10,-3.5 9,-6 4,-2 3,-0.5 10,0 4,0.5 4,2 8,5.5 6,2 60,0 6,2.5 1.5,1 1,2 0,2 -3,9 0,23 -6,0 0,-13 -1.5,-3 -7,-3 -8,-0.5 -23,0 -3,0.5 -4,2 -2.5,2 -1,2 0,13 -208.5,0 0,-12 -1,-2 -1,0 -1,2 0,12 -82.5,0 0,-13 1,-2 2.5,-2 6,-2.5 12,0 4,-1 4,-2 18.5,-13.5 3.5,-2 5,-1.5 17,-0.5 5,-2 7,-5zM390.5,700.5l4,-0.5 8,0 4,1.5 3.5,2 1.5,2 0.5,2 0,12 -30,0 0,-11 0.5,-3 3,-3z"/>
<path fill="#136157" d="M172,240.5l674,0 0,42 -0.5,2 -2,2.5 -3,1.5 -4,1.5 -40,0 -6,-2 -8,-5.5 -5,-2 -4,-0.5 -44,0 -6,-2.5 -9,-6 -3,-1 -4,-0.5 -7,0 -4,1 -4,2 -5,4 -2,0.5 -3,-0.5 -7,-5 -6,-2 -51,0 -6,2 -8,5.5 -3,0.5 -3,-1 -5,-4 -4,-2 -4,-1 -8,0 -4,-0.5 -4,-2 -6,-4.5 -4,-2 -4,-1 -6,0 -4,-1.5 -3,-1.5 -6,-4.5 -4,-2 -4,-0.5 -20,0 -4,0.5 -5,2 -21,15 -4,2 -3,0.5 -17,0 -4,-0.5 -5,-2 -8,-5.5 -5,-2 -16,0 -4,0.5 -6.5,3 -15.5,12.5 -3,2 -6,2 -10,0 -4,0.5 -4,2 -7,5 -6,2 -3,0 -3,-1.5 -10,-6.5 -6,-1.5 -115,0 -4,0 -4,1.5 -9,6 -4,2 -3,0.5 -6,0 -4,-0.5 -4,-2 -2.5,-2 -1,-2zM730.5,350.5l4,-0.5 25,0 3,0.5 4,2 1,1 0.5,2 -1.5,2 -5,2 -9,0.5 -4,1 -4,2 -5,4 -3,0.5 -2,-0.5 -3,-2.5 -7,-7 -1,-2 1,-2 1,-1zM689.5,387l3,0 6,2.5 1,1 4,8 4.5,5 0.5,2 -4,8 -3,4 -2,4 -4,6 -4,8 -7.5,10 -4,9 -2,2 -10.5,9 -4,2.5 -4,1.5 -6,0.5 -4,1.5 -3,1.5 -6,4.5 -3,1.5 -3,0 -3,-1.5 -2,-2 -0.5,-2 2.5,-8 -0.5,-3 -3,-7 -5.5,-10 -1,-14 -3,-4 -5.5,-10 0,-8 0.5,-1 7,-7 2,-1 0,-1 -1,-3 0,-2 2,-2 5,-2 3,-0.5 4,0.5 5,2 2,2 0,2 -1,3 1,1 1,0.5 3,0 2,1 3,0 2,1 6,-2.5 9,-2 9,-6zM596.5,397l3,2.5 1.5,5 2,3 5,13 1.5,4 -1.5,4 -5,7 -4.5,3 -5,1.5 -40,0 -2,1 -5,0 -2,-1 -6,0 -2,-1 -2,0 -5,-2.5 -6,-4 -9,-9 -0.5,-4 -5.5,-7.5 -8,-3 -3,-1.5 -1.5,-2 0.5,-2 1,-1 5,-2 5,0.5 3,1.5 1,1 1.5,4 3.5,1.5 2,0 2,-1 14,0 2,-1 11,0 2,-1 7,0 2,-1 6,0 4,-2 2,0.5 2,1.5 2,-1 3,0 6,-2 3,0 2,-1 2,0 3,-2.5zM203.5,456.5l31,0 2,1 14,0 2,1 10,0 1,1 6,0 2,1 5,0 1,1 5,0 1,1 4,0 1,1 2,0 4,2 4,4 0,1 2,2 0,6 1,2 0,11 1,1 0,2 1,1 0,2 1,1 0,2 1,1 0,2 -1,1 -8,0 -1,-1 -4,0 -2,-1 -4,0 -1,-1 -8,0 -2,-1 -7,0 -2,-1 -7,0 -2,-1 -11,0 -2,-1 -11,0 -2,-1 -18,0 -2,-1 -108,0 -2,-1 -42,0 -2,-1 -16,0 0,-27 15,0 2,-1 14,0 2,-1 13,0 2,-1 14,0 2,-1 14,0 2,-1 14,0 2,-1 13,0 2,-1 13,0 2,-1 14,0 2,-1 19,0zM605.5,461l4,0.5 2.5,3 -0.5,6 -1,1 -4,1.5 -3,-2.5 -1.5,-3 0.5,-5zM947.5,465l37,0 0,30 -7,0 -1,-1 -18,0 -1,-1 -9,0 -1,-1 -6,0 -1,-1 -5,0 -1,-1 -4,0 -1,-1 -3,0 -1,-1 -3,0 -1,-1 -2,0 -1,-1 -2,0 -1,-1 -1,0 -1,-1 -3,-1 -2.5,-2.5 0,-1 -1,-1 1,-3 2.5,-2.5 1,0 3,-2 2,0 1,-1 3,0 1,-1 3,0 1,-1 4,0 1,-1 6,0 1,-1 9,0zM620.5,671.5l3,0.5 2,1.5 0.5,1 -0.5,2 -4,2 -2.5,0 -2.5,-1 -1,-1 0,-2 2,-2zM506.5,680.5l5,-0.5 89,0 6,2 2.5,1.5 4.5,10 2.5,3 4.5,2.5 5,1 3,0 4,-1.5 9,-6 5,-2 4,-0.5 18,0 4,-0.5 4,-2 8,-5.5 4,-1.5 4,-0.5 44,0 6,2.5 6,4.5 4,2 4,1 17,0.5 5,2 1,1 0.5,2 -1.5,2 -2,1 -6,1.5 -60,0 -5,0.5 -4,2 -3,3 -0.5,3 0,11 -160,0 0,-12 -1,-3 -12,-10 -2.5,-0.5 -2,1.5 -0.5,2 0,22 -28,0 0,-12 1,-3 3.5,-2.5 10,-4.5 1.5,-2 0,-2 -7,-6 -1,-2 0.5,-2 1,-1z"/>
<path fill="#003c30" d="M192,240.5l652,0 0,12 -2,12 -0.5,10 -1.5,2 -2.5,1.5 -4,1.5 -3,0.5 -53,0 -5,-2 -8,-5.5 -5,-2 -4,-0.5 -42,0 -6,-2.5 -8,-5.5 -4,-1.5 -3,-0.5 -74,0 -6,2 -7,5 -4,2 -4,1 -7,0 -6,-2 -7,-5 -4,-2 -4,-1 -7,0 -3,-0.5 -4,-2 -9,-6 -4,-1.5 -4,0 -36,0 -5,0.5 -4,2 -3,2 -10.5,12 -3.5,2 -5,1.5 -12,0 -4,-0.5 -4,-2 -8,-5.5 -6,-2 -65,0 -3,0 -4,1.5 -10,6.5 -4,1.5 -3,0.5 -134,0 -9,-1 -4,-1.5 -1,1 -1,6 -2,2 -2,0.5 -2.5,-1.5 -1,-3zM750.5,350.5l4,0 4,1 3,2 0.5,2 -1.5,2 -2,1 -5,1.5 -5,-1 -4,-2.5 -0.5,-1 0.5,-2 3,-2zM689.5,388l3,0 1,1 2,0 3.5,2.5 0,1 2,3 1,3 2,2 0,8 1,1 -1,3 -4,5 -1,3 -2,2 -1,3 -2,2 -1,3 -4,5 0,1 -4,4 0,1 -4.5,4.5 -1,0 -4,3.5 -17.5,17 -5.5,3 -3,0.5 -5,-0.5 -2,0.5 -1,1 -2,0 -1,1 -2,0 -1,1 -1.5,-1.5 0,-2 -2,-3 2,-3 0,-3 -2,-6 -2.5,-11 -1,-0.5 -3,0 -1.5,-1.5 0,-8 -1,-1 0,-1 -2,-2 0,-1 -2,-2 0,-1 -1,-1 0,-1 -1,-1 -1,-3 -2,-2 0,-8 7.5,-7.5 3,-1 1.5,-1.5 0.5,-4 1.5,-2 3.5,-2 4,-1 4,1.5 3,2.5 0,2 -2,4 2,1.5 4,0 1,1 4,0 1,1 2,0 1,1 2,0 5,5 1,0 18,-18 1,0 1,-1 1,0zM596.5,398l2.5,2.5 0,2 1,1 0,3 1,1 0,2 1,1 0,1 3.5,4 0.5,4 -0.5,5 -2.5,4 -6.5,7.5 -5,3 -5,1 -40,0 -2,-1 -6,0 -1,-1 -3,0 -1,-1 -3,-1 -5,-4 -1,0 -9.5,-9.5 0,-2 -0.5,-1 -3,-3 -2.5,-4 -5.5,-4 -1.5,-2 -1,-2 0,-1 1.5,-1.5 5,0 3,2 3,4 2,1 4,0.5 1,-0.5 15,0 1,-1 12,0 1,-1 8,0 1,-1 7,0 3,-2 1,0 2,2 2,0 1,-1 4,0 1,-1 3,0 1,-1 4,0 1,-1 3,0 3,-3 1,0zM203.5,457l31,0 1,1 15,0 1,1 11,0 1,1 6,0 1,1 6,0 1,1 5,0 1,1 4,0 1,1 2,0 3,2 1,0 3.5,3.5 0,1 2,2 0,7 1,1 0,11 1,1 0,2 1,1 0,2 1,1 0,2 1,1 0,2 -8.5,0.5 -1,-1 -4,0 -1,-1 -5,0 -1,-1 -8,0 -1,-1 -8,0 -1,-1 -8,0 -1,-1 -12,0 -1,-1 -12,0 -1,-1 -19,0 -1,-1 -109,0 -1,-1 -43,0 -1,-1 -17,0 0,-26 16,0 1,-1 15,0 1,-1 14,0 1,-1 15,0 1,-1 15,0 1,-1 15,0 1,-1 14,0 1,-1 14,0 1,-1 15,0 1,-1 20,0zM605.5,462l3,0 2.5,2.5 0,5 -1.5,1.5 -2,0 -1,1 -2.5,-2.5 0,-1 -1,-1 0,-4 1.5,-0.5zM953.5,467l31,0 0,25 -21,0 -1,-1 -10,0 -1,-1 -7,0 -1,-1 -5,0 -1,-1 -4,0 -1,-1 -3,0 -1,-1 -3,0 -1,-1 -2,0 -3,-2 -2,0 -3.5,-3.5 0,-3 2.5,-2.5 1,0 3,-2 3,0 1,-1 3,0 1,-1 4,0 1,-1 6,0 1,-1 12,0zM522.5,680.5l4,-0.5 22,0 41,0 4,0.5 5,2 2,2 0.5,3 -2,6 0.5,2 4,3 6,1.5 41,0 6,-2.5 8,-5.5 4,-1.5 3,-0.5 58,0 3,0.5 4,2 1,1 0.5,2 -2.5,2.5 -6,2 -38,0 -6,1.5 -3.5,2 -2,3 0,13 -128,0 0,-12 -0.5,-2 -1.5,-2 -16.5,-11.5 -4,-1.5 -8,-1 -5,-3 -0.5,-1 0.5,-2 3,-2z"/>
<path fill="#f1e8dc" d="M40.5,240.5l25.5,0 0,14 2,12 0,28 2,11 0,19 2,12 0,18 3,16 1.5,4 1.5,2 2.5,1.5 6,2 46,0 4,0.5 4,2 2.5,2 1,2 -0.5,8 -1.5,3 -5,6 -4.5,4 -6,2.5 -13,0 -4,0.5 -4,2 -8,5.5 -6,2 -17,0 -4,-0.5 -6,-2.5 -3,-3.5 -4,-10 -14.5,-74 -1,-3 -1.5,-1.5zM962,240.5l28,0 0,3 -4,21 -0.5,12 -5.5,28 0,11 -4,19 0,11 -4,19 -0.5,12 -5,25 -1,3 -2,2.5 -5,2.5 -4,0.5 -5,-1.5 -4,-3 -0.5,-2 2,-7 0.5,-2 -2.5,-9 1,-3 4.5,-6 1.5,-3 0,-9 2,-10 0,-10 2,-10 0,-18 2,-12 0,-19 2,-11 0,-19 2,-10zM472.5,280.5l6,-0.5 6,2.5 12.5,10 2,3 -0.5,6 -1.5,4 -11,8 -2,3 0,17 1,2 2.5,2 3,1.5 3,0 4,-2 7,-5 3,-1.5 3,0 5,1.5 8,5.5 6,2.5 32,0 4,0.5 4,1.5 3,2 10,11.5 4,2.5 6,2 17,0.5 5,2 1,1 0.5,2 -1,2 -8.5,7.5 -4,8.5 -2,2.5 -15,11 -4,1 -1,1 -3,0 -1,0.5 -4,0 -1,-0.5 -5,0 -3,2 -7,0 -1,1 -8,0 -1,1 -12,0.5 -1,0.5 -11,0 -2.5,-0.5 0,-7 -2,-3 -5.5,-3 -5,-0.5 -4,0.5 -4,2 -6,4.5 -11.5,6.5 -0.5,1 -0.5,2 2.5,7 2.5,3 9,8 2,3 2,5 0,2 -0.5,2 -5,7 0,2 1,1 2,1.5 4,1.5 12,1 4,2 1.5,2 0,1 -1.5,2 -14,10 -2,0.5 -3,-0.5 -7,-5 -10,-5.5 -6,-4.5 -4,-2 -4,-0.5 -3,0 -4,1.5 -9,6 -6,2.5 -41,0 -4,0.5 -4,2 -3,3 -0.5,7 1.5,4 6.5,9 1.5,7 0,5 -3,15 0,2 1,1.5 2,0 2,-1.5 2.5,-9 1.5,-2.5 9,-5.5 6,-4.5 4,-2 6,-1 35,0 4,0.5 5,2 6,4.5 3,1.5 4,1.5 8,0.5 4,1.5 2.5,1.5 2,3 0,7 1,2 11,8 1.5,2 1,10 3.5,9 2,2 2.5,1.5 3,1 3,0.5 5,-1.5 3,-2.5 0.5,-3 -2,-6 0,-2 1.5,-2 18,-18 6,-3.5 5,-1 18,0 4,-0.5 5,-2 6,-4.5 4,-1.5 4,1 7,5 5,2 8,0.5 13,-0.5 5,-2 7,-5 5,-2 24,-0.5 5,-2 8,-5.5 5,-2 17,-0.5 4,-1 4,-2 2,-2 2.5,-8.5 2,-3 5.5,-3 5,-0.5 6,0 5,2 21,15 6,2.5 4,0.5 62,0 6,2.5 8,5.5 11,4 8,5.5 5,2 3,0 4,-1.5 8,-5.5 4,-2 3,-0.5 7,0 9,0 1,1 7,0.5 9,6 6,2.5 17,0 4,0.5 5,2.5 3,3.5 18,44.5 1,2.5 2,1.5 0,154.5 -53.5,0 0,-5 -2,-11 0,-28 -2,-12 0,-28 -2,-10 0,-10 -2,-10 0,-9 -1.5,-4 -4.5,-7 -2.5,-2.5 -4,-2 -5,-1 -26,0 -6,2 -8,5.5 -5,2 -4,0.5 -20,0 -4,0.5 -4,2 -2.5,2 -1.5,2 -3,7 -2.5,3 -5.5,3 -5,0.5 -57,0 -6,-2 -8,-5.5 -6,-2.5 -50,0 -6,-1 -4,-2.5 -0.5,-2 2.5,-2.5 10,-4.5 3,-3 3,-10 2.5,-8 -0.5,-2 -3,-2 -3,0.5 -5.5,4.5 -7.5,2.5 -55,0 -6,1 -4.5,2.5 -0.5,1 1,2 2,1.5 4,1.5 8,0.5 4,1.5 3,2 0.5,1 -0.5,2 -3,2 -4,1.5 -19,0 -3,0.5 -5,2 -8,5.5 -5,2 -6,0 -4,-1 -4,-2 -6,-4.5 -6,-2.5 -41,0 -6,-2.5 -20,-14.5 -5,-2.5 -4,-0.5 -29,0 -6,-2.5 -7,-5 -4,-2 -4,-0.5 -12,0 -4,-1 -6,-3.5 -12.5,-12 -6.5,-3 -4,-0.5 -29,0 -6,2 -8,5.5 -4,2 -4,0 -4,-1.5 -3,-1.5 -2,-2 -6.5,-9 -0.5,-2 1,-9 -3,-8 -2.5,-3 -7,-6 -1.5,-2 0,-3 4,-8 0.5,-9 3.5,-10 -1,-3 -4.5,-8 -3.5,-8 -2.5,-3 -4.5,-2.5 -5,-1 -69,0 -1,-0.5 -13,0 -4,-2 -6,-4.5 -4,-2 -3,-1 -6,0 -0.5,-0.5 0.5,-6 2.5,-6 2,-3 4.5,-3 10,-3.5 3.5,-2.5 5.5,-11 7,-9 2.5,-9 1,-2 14.5,-10.5 2,-1 2,0.5 2,1.5 6,9 2.5,2.5 4.5,2.5 8,1.5 5,2.5 14,11.5 9,11 4,2.5 3,1 4,-1 8,-5.5 6,-2.5 30,0 5,-0.5 4,-2 6,-4.5 4,-2 4,-1 10,0 4,-0.5 4,-2 6,-4.5 4,-2 4,-1 8,0 4,-0.5 4,-2 9,-6 9,-2 4,-2 4,-3 6,-8 1.5,-3 1.5,-5 0,-2 -0.5,-2 -7,-8 -1,-2 0.5,-2 4,-8 0.5,-6 -0.5,-3 -3,-3 -5,-2 -20,-0.5 -4,-1.5 -3.5,-2 -1.5,-2 -0.5,-2 0,-16 2,-3 4.5,-2.5 4,-1 17,-0.5 5,-2 7,-5zM387,523.5l-1,1 0,1 1,1 1.5,0 1.5,-1 0.5,-1 -1,-1zM846.5,523.5l-1.5,1 -1,2 0,5 0.5,3 1.5,2 3.5,2 2,0 3,-1 1.5,-1 1,-2 -1.5,-4 -3,-4.5 -2,-2 -2,-1zM512.5,534.5l0,1 1,0 1,-1 -1,-1zM605.5,562.5l-3,3 -2,8 1,2 1,1.5 3,1.5 2,0 4,-1.5 2,-2.5 0.5,-2 0,-5 -1,-3 -2.5,-2 -2,-0.5zM404.5,300.5l4,0 4,1 3.5,2 1,2 -0.5,3 -2.5,6 -3.5,3 -3,1 -3,-0.5 -3.5,-2.5 -2,-3 -2,-6 0.5,-2 1,-1.5zM446.5,342l2,0 2,0.5 1,1 1.5,2 -0.5,2 -2,3.5 -4.5,5.5 -4.5,2.5 -4,1 -7,-1.5 -2,-1 -1,-1 0,-2 2,-2 11,-6 3.5,-3zM384.5,350.5l4,-0.5 4,0.5 4,2 9,6 13,3.5 2,1.5 0.5,1 -0.5,2 -7,9 -5,3 -5,1.5 -15,0 -4,-0.5 -4,-1.5 -7,-5 -4,-2 -13,-2 -3,-1.5 -1.5,-2 0.5,-2 3,-2 4,-1.5 6,0 4,-1 4,-2 6,-4.5zM41.5,425.5l5.5,10 3.5,2.5 5,2 144,0 0.5,0.5 0,9 -0.5,0.5 -2,0.5 -17,0 -1,1 -15,0 -1,1 -14,0 -1,1 -14,0 -1,1 -15,0 -1,1 -15,0 -1,1 -15,0 -1,1 -14,0 -1,1 -15,0 -2,1 -13,0 0,-34.5zM848.5,450.5l12,-0.5 7,0.5 4,1.5 2.5,1.5 1,2 0,2 -2,5 -2,3 -2.5,0.5 -1,1 -3,0 -1,1 -2,0 -3,2 -2,0 -1,1 -1,0 -7,6 -3,0.5 -2,-0.5 -8,-5.5 -9,-2 -5,-2.5 -2,-2.5 -3.5,-8 1,-2 1.5,-0.5 5,4.5 6,1 3,0 5,-2 7,-5zM960.5,450.5l5,-0.5 4,1 4,2.5 0.5,2 -1.5,2 -3,1 -7,0.5 -5,-0.5 -3,-2 -0.5,-2 1.5,-2zM789.5,453.5l1.5,0 1,1 0,1 -1.5,1 -1.5,0 -1,-1 0,-1zM102.5,503l7,-0.5 87,0 9,6 4,1.5 6,0.5 4,1.5 8,5.5 4,2 4,0.5 15,0 3,0.5 5,2 6,4.5 4,2 4,1 13,0.5 5,2 6,4.5 4,2 4,1 6,0 4,1.5 4,2.5 13,10.5 9.5,8 2.5,3 1,11 2,9 3.5,9 5.5,11 0.5,6 -0.5,3 -3,3 -5,2 -4,0.5 -14,0 -3,-0.5 -4,-1.5 -8,-5.5 -6,-2.5 -30,0 -4,-0.5 -5,-2 -7,-5 -5,-2 -18,-0.5 -5,-1 -4,-2 -6,-4.5 -5,-2 -4,-0.5 -18,0 -5,-1 -4,-2 -6,-4.5 -10,-5.5 -6,-4.5 -5,-2 -5,0.5 -3,1 -1.5,2.5 -2.5,10 -3,3 -4,2 -4,0.5 -40,0 -5,0.5 -4,2 -3,3 -1,3 -3.5,16 0,20 -2,12 0,18 -2,12 0,27 -2,11 0,5 -35.5,0 0,-144.5 1,-1 1,-2.5 9,-44 1.5,-3 3.5,-2.5 4,-1.5 6,-0.5 4,-1.5 10,-6.5 4,-1.5 6,-0.5 4,-1.5 3,-1.5zM100.5,530.5l-5,2 -1.5,2 0,1 1.5,2 14,10 4,2 4,0.5 5,-1.5 3,-2 0.5,-2 -1,-2 -12.5,-10 -6,-2.5zM144.5,562.5l-2,1 -0.5,1 0.5,2 2,1.5 3,0.5 1,-1 0.5,-1 -0.5,-2 -2,-1.5z"/>
<path fill="#e4cba9" d="M443.5,291.5l3,-1 4,1 3,1.5 6,4.5 3,1.5 4,1 6,0 4,1.5 3,2 0.5,2 -2.5,2.5 -6,2 -22,0 -5,-1 -4.5,-2.5 -1.5,-2 -0.5,-2 0.5,-7 1.5,-2zM496.5,340.5l10,-0.5 5,0.5 5,2 8,5.5 5,2 34,0 4,0.5 5,2 7,5 4,2 4,0.5 8,0 5,1.5 4,3 0.5,3 -6,15 -2,3 -3.5,2.5 -10,4.5 -6,4.5 -4,2 -7,0 -1,0.5 -2,0.5 -23,0 -6,-2 -7,-4.5 -6,2 -6,-3.5 -4,-1.5 -7,-0.5 -5,0.5 -5.5,3 -17.5,14 -5,2 -9,1.5 -3,1.5 -2.5,2 -2.5,3 -4,7 -0.5,3 0,16 -1,2 -2.5,2 -4,2 -4,0.5 -46,0 -3,0.5 -4,2 -2.5,2 -1,2 -1.5,6 0,4 1.5,8 7.5,11 0.5,8 -1.5,4 -4.5,7 -3.5,3 -4,2 -5,0.5 -21,0 -6,-2 -3,-2.5 -0.5,-3 3,-9 0.5,-18 4.5,-9 1,-3 0,-7 -1,-2 -2.5,-2 -5,-2 -8,-0.5 -3,-1 -4,-2 -7,-5 -6,-2 -6,0 -4,0.5 -4,2 -6,4 -3,0 -2,-2 -1,-3 -1.5,-6 -0.5,-11 -1.5,-2 -4.5,-2 -5,-0.5 -0.5,0.5 0,5 1.5,7 -0.5,3 -4.5,3 -5,1.5 -14,0 -5,-1 -4,-2 -6,-4.5 -11,-5 -2.5,-3 -0.5,-3 1.5,-6 4,-10 2,-2 2.5,-1.5 4,-1.5 3,-0.5 4,0.5 5,2 15.5,11 5.5,5 3,1.5 1.5,-0.5 0.5,-4 1.5,-2 2.5,-1.5 3,-1 2,0 3,1.5 6,5.5 8,2 57,0 5,-0.5 4,-2 7,-5 11,-5 6,-4.5 3,-1.5 5,-1.5 16,0 4,-0.5 4,-2 6,-4.5 4,-2 4,-1 6,0 4,-1.5 9,-6 11,-5 2.5,-2 2.5,-3 4,-7 4.5,-10 6,-8 4.5,-4.5zM110.5,390.5l6,-0.5 4,0.5 5,3 0.5,2 -1.5,2 -5,2 -6,0.5 -4,-0.5 -5,-3 -0.5,-2 1.5,-2zM476.5,421l4,0.5 4.5,3 1,3 0,5 -1.5,4 -4,5.5 -3.5,3.5 -2.5,0.5 -2,-1.5 -1,-3 -1.5,-7 0,-7 0.5,-2 1.5,-2zM759.5,481.5l4,-1 5,2 17,13.5 4,2.5 5,1.5 13,0.5 5,2 3.5,3 4.5,10 4.5,8 1,4 -0.5,8 -3.5,10 0,9 -1.5,8 0.5,2 1,2 3.5,2 4,1.5 7,0.5 4,2 2,2 0.5,2 -0.5,2 -2,5 -2.5,3 -6.5,3 -8,0.5 -4,1.5 -3,1.5 -6,4.5 -6,2.5 -36,0 -6,-1 -6,-3.5 -9,-9 -2,-3 -4,-11 -1.5,-7 0,-9 -1,-2 -1.5,-1.5 -3,-1.5 -4,-1.5 -19,0 -5,-1 -4,-2 -7,-5 -12,-4.5 -6,-4.5 -10,-5.5 -1.5,-2 0.5,-2 1,-1 10,-5.5 6,-4.5 12,-4.5 9,-6 5,-2 6,0 4,-1 4,-2 6,-4.5 4,-2 3,-0.5 7,0 4,-1 3,-1.5 6,-4.5zM434.5,490.5l4,-0.5 14,0 5,2 3,2.5 1,3 -1.5,6 -5,11 0,2 3.5,6 0.5,2 -1,2 -3.5,2 -9,2 -4,2 -3,3 -0.5,4 -0.5,0.5 -12,0 -6,-2.5 -2.5,-2 -1.5,-2 -3.5,-9 0.5,-9 1,-3 4.5,-7 7.5,-10 4,-3zM150.5,510.5l9,-0.5 38,0 4,0.5 5,2 7,5 4,2 4,0.5 13,0 3,0.5 5,2 6,4.5 4,2 4,1 13,0.5 5,2 6,4.5 4,2 4,1 6,0 5,2 8,5.5 11,5 7,5 10,4.5 3.5,2.5 1.5,4 5,25 0.5,8 -0.5,3 -3,3 -4,2 -4,0.5 -6,-0.5 -5,-2 -6,-4.5 -4,-2 -4,-1 -6,0 -4,-1.5 -9,-6 -3,-1.5 -4,-1 -6,0 -4,-1.5 -9,-6 -4,-2 -4,-0.5 -12,0 -3,-0.5 -4,-2 -7,-5 -6,-2.5 -24,0 -6,-2 -8,-5.5 -10,-5.5 -14.5,-10.5 -8,-9 -2.5,-4 -3.5,-8 -4.5,-9 0,-2 1,-1 3,-2zM638.5,512.5l2,0.5 1.5,1.5 -0.5,2 -2,1 -2,-0.5 -1.5,-1.5 0.5,-2zM568.5,520.5l3,-0.5 4,1 4,2 2,2.5 0.5,3 0,24 -1.5,10 0.5,2 2.5,3 11,5 3.5,3 2.5,6 0.5,3 -1,2 -3.5,2 -3,1 -4,0.5 -41,0 -5,-0.5 -4,-2 -7,-5 -10.5,-6 -14.5,-10.5 -10.5,-8.5 -1.5,-2 0,-1 0.5,-2 5.5,-7 4,-3 4,-1.5 3,0 3,1 8,5.5 5,2 9,0.5 6,-2 2.5,-1.5 1.5,-2 2.5,-8 2.5,-4 9.5,-9zM606.5,520.5l4,0 5,1.5 3,2.5 0,2 -4.5,9 -2.5,6 -4,13 -2,2.5 -3,0.5 -2,-0.5 -1.5,-1.5 -1,-3 0,-25 0.5,-2 1.5,-2 2.5,-1.5zM926.5,520.5l4,-0.5 26,0 4,0.5 4,2 2,2 1,3 -4,17 -3,3 -6,2.5 -24,0 -4,0.5 -5,2 -8,5.5 -5,2 -6,-0.5 -3,-1 -3,-2 -1,-2 0.5,-2 5.5,-7 4,-3 6,-2.5 12,-0.5 3,-1 3,-2 0.5,-1 -0.5,-2 -8,-6 -1.5,-2 0.5,-2 1,-1zM336.5,532l3,0 2,1.5 0.5,1 -0.5,2 -3,1.5 -2,0 -2,-1.5 -0.5,-2 0.5,-1zM638.5,533.5l3,0 2.5,2 5,8 1,4 0,5 -1,3 -3.5,2.5 -5,1.5 -3,-0.5 -4,-1.5 -2.5,-2 -1,-3 0,-6 1,-3 4.5,-7.5zM438.5,540l3,0 3,2 2,2.5 -1,2 -3,1 -2,-1 -2,-3 -0.5,-3zM951.5,563l2,0.5 2,2.5 0,4.5 -1,2.5 -3,-3 -2,-3.5 0,-2z"/>
<path fill="#d5ac75" d="M526.5,351l2,0 3,1 8,5.5 5,2 13,0.5 4,1 4,2 5,4 3,1 3,-0.5 6,-4.5 4,-2 3,-0.5 3,0.5 4,1.5 2.5,3 0.5,2 -1.5,6 -1,3 -4,7 -4.5,4 -6,2.5 -10,0 -4,1 -4,2 -6,4.5 -5,2 -13,0.5 -3,-0.5 -4,-2 -3,-3 -0.5,-8 -1,-2 -3.5,-2.5 -3,-0.5 -3,1 -6,4.5 -3,1.5 -4,1.5 -6,0.5 -5,2 -6,4.5 -10,5.5 -6,4.5 -3,1.5 -5,1.5 -10,0 -5,2 -3,2 -1.5,2.5 0,16 -0.5,3 -5,8.5 -4,3.5 -4,2 -4,0.5 -44,0 -5,1.5 -3.5,2 -0.5,1 0,2 4.5,9 1.5,10 -2,9 -2,2.5 -4,2 -4,0.5 -3,-0.5 -4,-2 -2,-2.5 -0.5,-3 0,-24 -0.5,-2 -2,-2.5 -3,-1.5 -4,-1.5 -15,0 -4,-0.5 -4,-2 -6,-4.5 -3,-1.5 -4,-1.5 -6,-0.5 -4,-1.5 -2.5,-1.5 -1.5,-2 -0.5,-4 0.5,-5 3,-3 5,-2 4,-0.5 60,0 6,-2.5 7,-5 11,-5 7,-5 4,-2 5,-0.5 28,0 5,-1 5,-3 12,-11.5 12,-8.5 2.5,-2.5 5,-8 3.5,-3 4,-2 3,-0.5 16,0 3,-0.5 5,-2 6,-4.5zM478.5,422.5l2,0.5 1.5,1.5 -0.5,2 -2,1 -2,-0.5 -1.5,-1.5 0.5,-2zM180.5,510.5l7,-0.5 5,0.5 4,2 6,4.5 3,1.5 5,1.5 8,0 4,0.5 4,2 7,5 5,2 13,0.5 3,0.5 4,2 6,4.5 4,2 4,1 8,0 3,1 3,1.5 6,4.5 3,1.5 4,1.5 9,0.5 4,2 6,4.5 3,1.5 4,1.5 6,0.5 4,1.5 3.5,2.5 1.5,3 5,24 0,2 -1,2 -3,2.5 -2,0.5 -2,0 -3,-1.5 -6,-4.5 -3,-1.5 -4,-1 -6,0 -4,-1.5 -9,-6 -3,-1.5 -4,-1 -10,0 -4,-1.5 -10,-6.5 -10,-3.5 -3.5,-2 -2,-3 -2.5,-8.5 -2,-2 -4,-2 -2,0 -3,1 -8,5.5 -6,2.5 -23,0 -3,-0.5 -4,-1.5 -19,-13.5 -9.5,-10 -5,-8 0.5,-3 6,-8 4,-3zM716.5,510.5l4,-0.5 5,0.5 5,2 2,2 0.5,3 -2,5 -2,3 -2.5,2 -5,2 -3,0 -5,-2 -3,-3 -2,-6 0.5,-3 2.5,-3zM760.5,511.5l4,1 7,5 5,2 4,0.5 30,0 6,2.5 3,3 0.5,4 -0.5,5 -6,9 -1,2 1,10 -2.5,7 -0.5,3 2.5,7 0,2 -2,3 -10.5,8.5 -3,2 -5,2 -8,0 -5,-1.5 -5,-3 -9.5,-10 -1,-2 -3,-10 -5,-8 -6.5,-9 0,-2 1,-1 3,-2 4,-1.5 9,-0.5 4,-2 1.5,-2 -0.5,-2 -1,-1 -11,-5 -3,-3 -2,-6 0.5,-3 1.5,-2.5zM562.5,532l2,0 3,1 2,2 1,2.5 3.5,17 0,18 1,3 2,2 11.5,4 3,2 0.5,1 -0.5,2 -3,2 -5,1.5 -7,-0.5 -5,-2 -6,-5 -5,-2 -4,-0.5 -21,0 -6,-2.5 -3,-3 -1.5,-4 -0.5,-5 1,-3 4.5,-7 3.5,-3 4,-1 3,1 5,3.5 2,0 1,-0.5 1.5,-2 2,-8 2,-4 4.5,-6.5z"/>
<path fill="#c58f44" d="M543.5,362.5l3,-0.5 3,1 14.5,10.5 0.5,1 0.5,2 -2,6 -2.5,3.5 -7,4 -5.5,2.5 -5.5,5 -2,0.5 -2,0 -3,-2.5 0,-1 0.5,-2 5,-6 -0.5,-2 -3,-2.5 -4,-1.5 -3,-0.5 -20,0 -5,1.5 -3.5,2 -28,23 -2.5,1.5 -3,1 -2,0 -3,-1.5 -2,-2 0,-1 0.5,-2 5.5,-7 6.5,-10 9.5,-10 4,-3 4,-2 4,-0.5 35,0 6,-2.5zM420.5,400.5l6,-0.5 4,0.5 4,2 3,3 0.5,3 0,23 -0.5,3 -2.5,3 -11,9 -5.5,3 -5,0.5 -63,0 -6,-2 -7,-5 -4,-2 -4,-1 -9,-0.5 -5,-2 -1.5,-2 0.5,-2 1,-1 4,-2 3,-0.5 37,0 5,-0.5 4,-2 8,-5.5 11,-4 8,-5.5 12,-4.5 8,-5.5zM801.5,521.5l4,-1 3,1 3.5,2 1.5,3 -1.5,8 -7,10 0,3 2,6 0,3 -3.5,9 -7,9 -5,3.5 -3,1 -2,0 -3,-1.5 -3,-2.5 -6,-9.5 -0.5,-3 0,-7 2,-9 4.5,-9 3,-3.5 1,-0.5 2,0.5 5,3 3,-1 1.5,-2.5 0.5,-8 1.5,-2zM218.5,531l3,-0.5 3,1 3,2 0.5,2 -1.5,2 -4,1.5 -2,0.5 -3,-1 -3,-2 -0.5,-2 1.5,-2zM554.5,543.5l2,-0.5 3,1.5 8.5,11 3,8 -0.5,2 -2,2 -4,1.5 -3,0.5 -7,-1 -2,-2 -2,-9 0,-4 1.5,-7 1,-2zM288.5,550.5l7,-0.5 5,0.5 4,2 6,4.5 4,2 3,1 8,0.5 5,2 2.5,2 1,2 1.5,6 -1,3 -4,3 -5,1.5 -6,0 -6,-2.5 -20,-14.5 -11,-6.5 -0.5,-2 0.5,-1 3,-2zM543.5,571.5l2,-0.5 2,0.5 1.5,1 0,1 -0.5,2 -1,1 -3,1.5 -2.5,-0.5 -2,-2 0.5,-2zM582.5,582.5l2,0.5 1.5,1.5 -0.5,2 -2,1 -2,-0.5 -1.5,-1.5 0.5,-2z"/>
<path fill="#a56b23" d="M494.5,372.5l3,1 1,1 0,2 -2,2.5 -3.5,3.5 -5.5,12.5 -2,1.5 -3,0 -1,-1 -1,-2 1,-5 1,-3.5 3,-4 3.5,-3.5 2,-3zM414.5,410.5l5,-0.5 4,1 4,2 1.5,2.5 0.5,3 -3,14 -1,2 -1.5,2 -2.5,1.5 -4,1.5 -8,0.5 -19,0 -5,-1.5 -3,-2 -1,-2 0.5,-2 7.5,-8.5 3,-2 10,-4.5 7,-5zM554.5,552l2,0 2,0.5 2.5,2 1.5,2 2.5,7 -0.5,2 -2,2 -2,0 -3,-1.5 -5.5,-7.5 -0.5,-2 0,-2zM792.5,552.5l2,0 1.5,1 1.5,2 0.5,2 -0.5,7 -1.5,2 -2.5,1 -2,0 -1.5,-1 -1.5,-2 -0.5,-2 0.5,-7 1.5,-2z"/>

</g>
<g clip-path="url(#rob)" fill="none" stroke="#000" stroke-width="0.7" stroke-linejoin="round">
<path d="M184.4,288.8 196.8,282.0 207.6,279.1 217.1,276.4 226.0,274.7 232.5,275.9 238.2,277.1 249.0,278.8 254.7,280.3 259.3,279.6 268.8,277.9 275.2,277.1 278.9,278.8 286.6,278.6 292.0,280.6 295.9,282.3 302.8,283.0 307.6,284.0 314.4,282.8 319.5,283.5 326.2,282.3 330.0,282.3 333.7,279.1 335.9,275.4 340.8,273.0 341.4,275.4 340.2,279.1 341.0,281.5 343.9,284.0 347.7,281.5 352.7,278.6 358.3,278.6 358.0,281.5 354.5,285.3 349.4,287.1 344.9,286.6 341.8,289.6 337.8,292.4 331.6,294.3 325.4,297.4 319.0,302.2 314.4,306.7 315.4,311.6 321.2,311.6 324.8,314.3 329.1,316.3 334.6,316.8 331.8,322.6 332.8,326.0 334.8,327.7 337.9,325.4 340.2,319.9 340.2,317.6 345.5,315.7 349.4,311.6 349.9,307.5 348.5,306.2 352.5,302.2 354.6,297.4 359.7,297.4 363.3,298.2 366.2,300.3 369.4,300.8 368.3,304.0 367.0,306.7 369.9,308.1 374.3,306.7 377.9,303.5 379.4,302.4 379.8,306.2 380.8,309.4 381.0,313.0 382.9,316.3 386.7,317.6 387.4,319.9 389.2,322.6 389.1,324.9 385.6,326.8 380.2,329.6 375.4,330.5 368.8,330.2 363.1,330.5 359.9,333.0 354.1,336.7 349.5,339.9 353.6,338.1 360.7,333.9 366.6,333.3 366.4,335.3 362.0,336.7 363.5,339.0 363.2,341.6 365.8,342.7 369.6,343.0 374.1,339.6 374.2,342.4 370.6,344.4 364.6,346.5 358.6,349.3 358.1,347.3 362.2,344.7 360.6,344.4 357.0,345.0 352.1,347.0 348.2,349.0 346.0,352.2 346.7,354.5 343.6,355.4 337.8,357.1 336.3,358.3 334.7,361.2 331.8,363.5 328.6,368.2 328.4,371.4 328.3,373.7 324.9,375.5 321.2,377.5 317.7,379.8 313.0,382.8 310.8,386.0 310.2,389.5 311.1,393.6 311.8,398.2 310.3,402.6 308.0,402.9 307.0,400.0 305.5,395.6 306.1,392.4 304.2,388.9 300.3,389.8 298.3,387.7 294.0,387.7 290.7,388.0 290.2,391.5 287.0,391.2 283.6,390.1 278.7,389.8 274.9,392.1 269.9,395.3 267.7,400.6 265.7,406.4 264.8,411.4 265.7,415.8 267.6,420.1 270.4,422.2 272.8,423.4 278.0,421.9 280.8,420.4 282.6,416.1 286.7,414.3 291.3,413.7 292.1,415.8 289.8,419.6 288.1,422.5 287.0,425.4 285.5,429.8 288.0,430.1 292.3,430.1 296.1,430.4 299.2,432.7 298.0,438.0 297.1,442.9 298.1,446.7 300.5,449.6 303.5,450.8 307.2,448.5 310.0,449.1 313.0,451.4 314.3,452.3 316.5,449.3 318.0,445.5 319.8,444.1 323.2,443.5 327.2,440.9 329.1,440.3 327.9,442.9 328.3,445.0 328.7,447.3 328.0,445.3 331.7,442.6 332.4,440.9 333.5,442.9 336.5,444.4 337.2,445.8 341.9,445.5 345.6,447.0 350.1,445.3 352.9,445.3 351.3,446.7 355.1,448.8 356.2,451.7 360.1,453.1 362.5,456.6 365.0,459.3 370.2,459.3 374.0,460.1 377.8,462.5 379.9,464.2 381.6,470.1 382.9,473.6 381.5,476.5 386.7,477.4 386.7,480.9 390.6,478.5 394.5,480.3 397.1,483.8 401.0,483.8 404.9,485.0 408.7,485.0 412.6,487.3 416.0,490.5 420.4,491.4 421.8,495.5 422.4,499.9 421.2,504.2 418.2,507.5 415.8,511.5 413.3,514.5 412.2,518.8 412.5,524.7 412.2,529.1 410.9,533.7 408.7,538.7 408.4,541.3 406.0,543.7 402.2,543.7 399.2,544.5 395.4,546.6 391.9,550.1 390.2,553.0 390.8,558.3 388.6,562.6 386.7,567.0 383.5,570.5 381.3,575.2 379.2,578.1 375.5,578.1 370.9,577.0 369.2,575.8 372.6,579.6 373.5,582.5 373.5,587.4 370.6,589.5 364.9,590.4 363.5,591.8 364.3,595.6 359.2,595.9 358.5,598.5 361.9,599.6 361.3,601.7 359.7,603.4 360.1,607.7 357.0,609.4 356.9,612.0 361.6,615.1 361.4,617.7 359.8,621.4 358.4,624.2 361.2,628.4 358.8,628.4 356.3,630.4 358.9,632.6 362.3,630.4 365.0,633.1 370.8,635.1 368.7,636.2 364.7,637.0 359.9,635.9 355.8,634.0 351.1,630.9 347.0,627.6 343.8,623.4 340.8,617.7 339.1,612.9 341.2,609.1 341.5,604.8 340.5,599.6 337.7,597.6 336.4,592.7 334.7,585.4 335.4,581.6 336.4,575.8 335.9,569.9 334.7,564.1 334.9,558.3 335.0,551.0 334.4,544.5 334.4,537.8 333.2,530.5 330.3,527.6 325.7,524.7 319.8,521.2 316.6,516.8 313.9,511.5 310.9,505.7 308.6,500.4 306.1,496.4 302.9,494.0 302.2,489.6 304.7,486.4 306.0,484.1 303.1,483.2 303.6,479.4 305.1,475.6 305.4,473.9 308.5,472.1 309.3,469.2 312.0,466.3 312.6,462.5 312.2,459.0 312.5,456.1 311.1,454.6 310.1,452.3 307.4,450.2 305.2,452.3 305.4,454.9 303.3,455.2 301.3,453.1 298.5,452.6 296.5,451.1 293.9,448.2 291.4,446.4 291.6,443.8 288.8,440.0 287.2,438.0 283.9,437.4 280.2,436.2 276.5,434.4 273.1,430.7 270.7,429.2 266.7,430.7 263.0,429.8 258.2,427.7 253.4,425.1 248.6,423.1 245.4,419.6 244.5,416.6 245.5,413.7 244.4,409.9 241.4,405.5 238.4,401.7 238.1,398.8 235.8,396.8 234.1,393.9 232.6,390.4 232.4,385.4 229.2,383.9 228.0,387.4 229.7,391.8 230.7,395.3 232.6,399.7 233.5,404.7 235.7,408.8 234.0,408.8 231.4,405.2 230.3,402.0 230.2,399.1 227.0,397.1 226.8,394.7 225.9,391.8 225.1,388.0 224.4,384.2 224.2,381.3 222.5,377.8 220.7,376.3 217.7,375.8 217.6,372.5 217.1,369.6 217.0,366.7 216.7,364.7 216.5,361.2 216.7,358.6 219.3,354.5 220.6,351.1 224.1,346.7 227.0,341.9 229.4,335.9 232.8,336.2 232.7,338.1 234.6,334.5 234.2,333.0 232.6,330.5 229.1,328.5 229.6,325.4 229.8,321.8 229.8,318.5 230.0,315.2 229.5,312.2 230.9,308.3 229.3,306.7 224.9,307.0 222.7,304.6 219.0,303.5 214.5,303.0 212.1,301.4 207.5,302.2 203.0,304.0 197.4,305.4 200.9,302.2 206.1,300.3 202.4,300.8 196.8,303.5 192.8,305.4 188.8,308.1 182.7,310.2 175.7,312.4 167.2,315.7 161.2,317.4 155.5,318.2 161.0,316.5 167.6,314.3 174.9,311.6 181.6,308.3 184.8,306.5 180.6,307.0 176.8,307.0 175.3,305.6 178.4,303.0 175.3,302.2 175.2,300.0 176.1,298.2 181.4,295.6 186.1,295.0 191.7,293.7 194.4,291.7 191.4,291.7 186.9,291.7 184.2,291.2 184.4,288.8ZM421.1,303.8 417.6,301.9 413.2,300.0 411.3,296.9 409.9,293.0 409.5,289.1 408.8,285.3 411.3,281.5 416.8,279.1 411.4,276.6 413.3,273.0 412.5,269.5 412.0,266.1 407.5,263.8 398.9,263.8 394.7,262.7 392.8,260.9 391.5,258.8 401.4,256.9 408.0,254.9 406.3,253.3 415.3,252.0 423.8,251.1 434.9,250.8 443.2,249.9 451.3,249.1 462.1,248.8 471.0,249.3 478.2,250.3 474.7,251.5 480.7,252.2 491.7,252.2 493.1,253.3 484.7,255.3 481.0,257.3 480.2,260.5 476.3,262.7 478.3,264.9 477.0,267.2 472.9,269.5 468.8,271.9 471.9,274.2 471.4,276.6 467.6,277.4 469.2,278.6 463.0,281.0 457.0,282.3 451.2,282.8 447.5,285.8 441.9,288.3 436.9,288.8 433.5,290.4 431.5,293.5 427.4,296.9 424.7,300.8 422.8,303.0 421.1,303.8ZM464.8,289.1 467.5,287.1 470.1,288.8 472.2,287.6 476.1,287.6 480.1,286.6 483.3,287.8 485.4,289.9 483.0,291.9 479.2,293.5 474.5,294.5 471.2,294.0 467.3,293.2 468.6,291.9 464.8,290.6 467.9,289.9 464.8,289.1ZM499.2,330.9 502.6,330.2 504.4,329.4 508.7,329.1 512.7,328.8 515.1,327.7 513.8,326.6 515.7,323.8 512.7,322.6 512.2,321.0 511.3,319.0 509.2,317.4 508.1,314.9 505.6,314.3 506.9,312.7 508.0,310.0 504.0,309.7 505.3,307.3 501.5,307.3 499.8,310.0 500.1,313.2 498.8,313.0 500.2,315.7 501.6,317.4 504.4,317.4 505.5,319.6 505.4,321.5 502.4,321.8 502.1,323.2 503.0,324.3 500.5,325.7 502.5,326.6 505.1,327.1 503.6,327.7 502.0,328.2 499.2,330.9ZM498.1,324.9 498.7,321.8 499.9,318.7 498.6,316.5 495.9,316.3 493.6,318.5 490.3,319.3 490.8,321.5 491.8,322.4 490.2,324.9 489.4,326.0 490.9,326.8 493.9,326.0 498.1,324.9ZM388.2,326.8 386.6,330.5 389.8,332.5 391.6,335.0 391.9,338.1 389.4,340.4 387.6,338.7 384.5,339.9 384.0,337.9 377.1,337.9 380.2,333.9 384.2,329.1 388.2,326.8ZM297.3,412.5 301.7,409.6 306.3,409.0 311.2,410.5 316.0,412.8 320.7,415.5 323.8,417.5 320.4,418.4 314.8,418.4 314.3,416.1 310.8,413.4 306.0,411.7 302.8,411.4 300.9,412.3 297.3,412.5ZM322.7,422.5 325.7,418.7 330.0,418.7 334.5,419.3 338.0,422.2 333.8,423.4 329.9,424.8 326.7,423.4 322.7,422.5ZM312.8,423.1 317.8,423.6 315.9,424.5 312.8,423.1ZM341.0,422.6 344.8,423.1 344.0,424.1 340.9,423.9 341.0,422.6ZM226.2,328.8 230.3,329.9 231.9,332.5 232.3,335.3 229.4,334.5 226.9,331.6 226.2,328.8ZM380.2,298.7 374.8,297.4 369.8,295.6 367.7,292.2 361.9,291.9 358.6,290.9 360.4,289.6 367.2,289.6 370.0,286.6 373.6,282.3 370.2,280.3 368.7,278.3 365.9,277.1 359.6,278.1 354.2,277.9 349.2,277.1 349.2,275.0 349.6,272.3 353.0,269.5 359.9,268.8 368.3,269.3 368.2,271.6 373.1,271.2 376.5,272.6 380.4,274.7 384.4,277.1 385.5,279.8 385.7,282.8 390.3,284.8 393.3,286.3 389.6,289.9 386.2,288.8 383.8,287.8 379.8,289.9 382.5,292.2 382.6,294.8 379.0,295.8 380.2,298.7ZM379.2,262.9 373.4,263.6 367.3,262.9 360.2,263.1 363.0,259.8 370.9,257.9 369.6,256.3 367.2,254.3 369.6,252.4 379.2,251.0 392.9,249.8 405.3,249.6 415.3,250.3 415.8,251.5 408.3,252.8 404.0,254.1 397.3,256.1 389.6,257.3 385.9,259.4 379.2,262.9ZM314.8,280.3 308.5,281.0 300.4,281.5 296.5,279.8 294.4,277.4 300.0,276.4 297.5,274.5 298.7,271.9 307.2,270.0 315.3,270.7 323.2,270.0 323.0,271.9 325.4,275.0 323.1,278.3 314.8,280.3ZM284.4,273.3 286.9,275.0 292.3,274.2 301.3,271.2 306.0,269.5 303.0,267.7 294.2,267.7 289.1,270.2 284.4,273.3ZM372.3,266.7 363.1,267.2 351.3,266.7 346.3,264.9 355.9,262.5 365.4,263.1 374.1,264.7 372.3,266.7ZM327.7,266.1 319.3,267.2 311.7,266.3 310.9,264.2 321.6,262.7 330.4,263.8 327.7,266.1ZM349.7,271.2 339.4,272.6 341.9,269.1 348.4,267.9 352.3,268.8 349.7,271.2ZM336.3,273.0 328.1,273.0 330.1,270.2 336.5,268.4 338.3,270.0 336.3,273.0ZM368.3,258.8 359.5,257.9 357.9,255.3 367.3,253.0 371.7,254.5 368.3,258.8ZM352.2,293.2 344.7,295.6 338.9,293.7 343.8,289.6 348.7,288.1 351.7,290.9 352.2,293.2ZM332.0,281.0 325.6,280.8 328.5,278.6 333.4,278.3 332.0,281.0ZM115.8,420.7 118.6,419.6 118.1,417.5 116.0,418.7 115.8,420.7ZM114.9,415.8 116.7,415.8M111.6,413.7 112.8,414.0M108.3,412.0 109.2,412.3M277.0,289.9 271.1,289.9 272.7,287.3 280.3,285.5 284.1,286.6 277.0,289.9ZM273.9,300.8 278.7,300.0 285.8,297.7 292.2,296.1 285.9,298.7 278.8,301.1 273.9,300.8ZM291.9,329.6 296.6,329.4 296.6,325.4 298.5,320.4 294.8,321.8 294.4,325.4 291.9,329.6ZM301.2,340.4 307.1,337.6 311.8,334.7 317.3,335.0 318.9,338.1 317.5,341.0 312.4,341.0 311.1,338.7 307.1,340.1 301.2,340.4ZM304.8,354.8 308.1,354.2 310.4,349.6 314.1,345.3 316.2,343.0 312.7,343.0 309.4,345.3 307.7,346.7 307.6,349.6 304.8,354.8ZM317.0,342.7 319.8,342.4 324.4,342.4 326.8,345.3 325.1,346.7 322.3,346.7 321.0,350.2 319.0,351.1 318.7,348.2 316.5,349.0 319.1,345.3 317.0,342.7ZM315.2,354.8 318.3,355.4 323.8,353.4 327.0,351.6 323.0,352.2 317.8,353.7 315.2,354.8ZM325.4,350.2 330.8,350.2 334.1,349.3 334.0,347.6 330.2,348.5 325.4,350.2ZM591.8,385.4 594.8,385.7 596.7,384.8 597.7,382.5 598.1,379.8 599.1,375.8 599.2,372.5 599.3,369.6 597.4,369.6 595.4,369.0 593.4,370.8 590.5,371.1 587.4,369.3 586.0,369.0 585.1,370.5 582.7,370.5 580.4,369.3 578.2,368.5 577.4,365.8 575.1,364.7 576.4,362.9 575.6,361.8 574.3,361.2 574.4,359.6 577.3,358.6 580.9,358.3 580.8,356.3 578.3,355.1 577.5,352.5 576.9,351.3 578.6,349.6 578.6,346.7 580.7,344.7 582.1,342.1 583.8,340.7 586.0,341.6 589.1,342.4 587.5,343.9 589.7,346.5 592.1,346.7 594.1,345.0 596.4,344.4 593.4,343.3 592.4,341.9 595.6,340.4 598.9,339.3 601.5,339.0 600.3,340.7 598.7,340.7 599.4,342.4 598.0,344.4 599.2,346.2 602.8,348.2 605.5,349.9 609.2,352.2 610.2,355.1 607.4,356.8 603.2,357.1 599.5,356.3 597.0,355.1 594.9,353.9 590.9,353.9 587.5,354.8 585.9,356.6 582.8,356.4 580.7,356.4 580.4,356.8 577.2,357.1 575.4,358.3 574.5,358.9 573.7,357.7 571.2,357.1 568.9,357.4 569.8,359.2 568.4,359.2 567.7,360.0 566.4,358.3 565.8,359.7 566.9,361.8 566.6,362.9 569.6,365.0 569.8,366.4 568.5,365.8 567.3,365.8 567.9,367.3 566.7,367.0 567.9,369.9 566.5,369.9 565.4,368.8 564.4,369.0 563.0,366.1 564.1,364.7 562.4,364.1 561.5,362.6 559.7,360.6 558.1,358.6 557.8,355.7 557.2,353.9 555.5,352.8 553.0,351.1 549.4,349.3 547.3,347.3 545.5,344.7 543.7,345.6 543.4,343.6 540.4,344.2 540.5,346.5 541.6,348.2 543.8,349.6 544.9,351.9 547.3,353.9 549.9,354.2 549.8,355.4 553.0,356.8 556.0,359.2 555.6,360.3 552.9,358.6 551.6,360.3 552.9,362.6 551.6,364.4 550.5,365.8 549.7,365.3 550.3,363.2 549.4,359.7 547.1,358.0 545.7,357.4 542.8,356.3 540.8,354.5 538.3,352.8 536.6,351.1 535.8,348.5 532.7,347.0 530.6,348.5 529.0,349.0 527.2,350.8 523.7,349.9 521.3,349.6 519.3,350.8 519.5,354.2 516.7,356.0 513.9,357.4 511.3,361.2 512.2,363.2 510.3,366.4 507.7,368.5 506.4,369.3 501.4,369.3 498.4,371.4 496.8,369.0 494.1,367.9 490.5,368.5 490.9,364.4 489.2,363.5 491.1,359.2 491.4,355.4 490.4,351.1 493.3,349.0 498.0,349.3 503.1,349.9 507.8,349.9 509.2,346.7 509.5,343.0 507.0,339.6 505.2,337.9 501.3,336.7 501.8,335.0 505.7,335.0 508.6,335.0 508.2,331.9 509.3,332.8 512.4,332.5 515.4,330.5 515.8,328.5 519.1,327.4 521.3,325.4 522.5,322.6 526.2,321.2 530.1,321.0 531.1,319.0 529.9,317.1 529.5,314.3 529.4,311.6 532.1,311.1 534.3,309.7 533.9,312.7 535.1,313.8 533.5,315.7 532.9,317.1 534.8,318.7 535.9,319.9 539.1,318.7 542.9,320.1 546.7,319.0 551.5,317.6 552.8,318.7 554.9,318.5 557.2,316.3 556.6,312.2 559.4,309.7 561.2,311.6 563.4,310.8 562.9,308.1 561.1,307.3 560.8,305.6 565.8,304.6 570.0,304.6 574.4,303.8 570.5,302.2 565.4,302.4 562.5,303.2 559.5,303.8 556.1,301.9 555.1,298.2 555.0,295.0 557.6,293.0 560.2,290.9 561.4,289.1 557.7,288.3 554.9,289.1 554.0,291.7 551.8,294.0 548.6,296.4 547.1,298.7 547.2,301.6 550.6,303.5 549.8,305.4 547.1,307.3 547.1,310.8 545.8,314.1 542.7,315.7 539.9,316.0 539.1,313.8 537.4,310.5 535.6,307.3 534.2,305.4 533.4,305.6 531.8,306.7 529.2,308.6 526.7,308.9 523.7,306.7 522.7,303.5 522.2,300.3 522.7,297.7 526.0,295.8 529.5,294.0 532.8,292.2 535.5,289.6 536.7,286.8 539.3,284.0 541.3,281.5 544.8,279.6 548.2,277.9 552.6,276.6 556.9,275.4 559.7,275.7 563.4,275.4 568.3,276.6 565.8,277.9 569.7,278.3 574.6,279.3 579.6,280.3 585.0,282.3 590.3,284.0 591.0,286.1 588.5,287.3 583.6,287.1 578.6,286.3 575.0,285.3 579.1,288.3 580.6,291.4 584.4,293.0 586.7,292.2 587.3,290.9 590.7,291.2 590.5,288.6 593.2,286.8 596.8,287.1 596.4,284.0 594.1,281.3 599.2,282.3 600.5,285.5 603.6,285.3 604.4,283.5 608.6,282.0 613.2,281.8 615.3,282.3 617.7,281.3 622.1,280.8 625.0,280.8 625.6,278.6 631.6,279.3 636.0,280.3 640.6,281.8 641.7,280.6 637.0,278.8 634.8,275.9 634.9,274.0 635.7,271.2 639.9,270.7 642.9,271.9 645.0,275.4 648.0,279.8 651.6,282.8 651.1,286.6 653.8,284.8 653.3,281.5 649.4,277.9 646.0,274.2 647.0,271.9 652.0,272.6 654.9,271.6 660.0,273.5 665.2,276.6 661.4,273.0 655.0,269.5 660.6,268.8 664.8,267.7 662.4,266.1 667.1,264.7 673.0,263.8 679.1,263.1 682.3,261.6 685.9,260.0 689.9,260.9 695.0,262.2 702.4,262.7 707.0,264.2 706.4,267.2 704.3,268.4 707.5,268.8 712.2,269.1 714.5,269.5 723.1,270.0 726.6,270.7 730.2,269.3 732.0,269.3 738.2,270.7 743.3,271.9 748.7,274.7 752.9,275.9 754.1,274.0 758.7,274.0 765.4,274.2 764.6,272.3 764.8,271.2 773.3,272.1 781.6,272.8 786.3,274.2 792.1,275.7 798.1,275.4 804.3,275.9 809.7,278.3 814.2,278.8 820.1,279.1 825.0,278.6 828.5,277.9 832.2,280.3 833.9,278.3 839.9,278.6 850.3,280.6M173.7,280.6 176.9,282.0 178.5,284.8 182.8,285.8 182.6,287.6 173.4,291.2 170.3,291.9 169.3,289.9 165.5,289.1 165.2,287.3 158.9,290.4M865.1,290.4 863.2,291.7 860.7,290.9 858.1,290.9 867.8,294.3 873.1,296.6 868.7,297.1 865.8,298.7 863.8,301.1 863.3,303.5 857.3,302.4 854.8,303.8 851.0,304.0 853.6,307.5 853.5,309.4 858.8,312.7 857.9,313.8 861.0,317.1 858.6,318.5 862.2,322.1 860.0,323.2 861.3,326.8 861.1,328.5 856.7,325.4 850.6,319.9 845.0,314.3 843.3,311.1 843.4,308.3 842.7,304.0 843.7,301.4 843.8,299.0 841.9,296.6 841.5,298.7 837.0,298.7 839.2,301.4 830.6,299.0 831.2,303.0 832.5,305.1 828.5,306.2 825.9,305.6 820.6,304.6 815.2,305.4 809.0,305.4 807.0,307.5 806.4,312.4 807.5,317.1 804.3,317.6 810.0,319.9 812.5,321.0 815.7,320.1 821.1,322.1 823.5,324.6 824.8,328.2 828.5,333.3 829.4,337.3 829.5,340.7 828.6,344.4 827.6,348.2 825.9,351.1 822.0,350.5 819.4,351.9 819.1,353.1 818.6,355.4 819.3,357.4 816.7,359.7 816.3,361.2 819.6,363.8 823.8,367.6 825.8,371.4 826.4,373.7 823.8,374.6 821.1,376.0 819.4,373.4 818.1,369.9 818.2,368.5 816.5,366.4 813.2,366.1 812.6,363.8 810.8,361.2 807.9,359.7 804.7,361.8 802.5,363.2 802.0,358.9 799.2,357.1 797.4,360.0 794.1,362.1 794.3,364.1 797.9,366.1 799.6,367.9 802.8,366.4 807.4,367.6 807.7,368.8 804.5,370.2 802.3,373.7 805.5,376.3 808.5,380.1 812.2,383.6 812.2,387.1 814.8,389.5 814.7,393.3 813.2,396.8 812.2,400.6 810.6,403.5 808.6,405.8 806.2,408.8 802.4,410.2 800.6,411.4 797.7,412.3 794.2,413.7 791.8,414.6 791.9,416.9 790.7,416.9 789.6,413.7 786.2,413.1 783.0,415.2 781.1,418.7 780.7,421.6 783.3,424.8 786.8,428.3 790.1,431.8 792.1,437.1 792.3,442.0 789.5,445.0 786.6,446.4 786.0,448.8 783.0,450.8 781.8,451.1 782.0,447.3 779.3,445.8 776.5,443.5 774.5,440.9 770.8,439.4 769.8,437.1 768.3,437.7 768.7,441.5 767.2,445.0 767.2,449.3 769.4,451.7 771.0,455.5 773.6,456.6 776.0,458.7 778.5,461.9 778.9,466.3 780.0,469.5 781.1,472.4 779.3,472.7 775.9,469.8 773.5,468.0 772.2,465.1 771.0,461.3 770.6,458.1 768.7,456.6 766.2,453.1 765.1,452.6 765.1,448.8 765.6,444.4 765.2,440.6 763.5,436.2 762.1,432.7 761.1,428.6 759.1,426.9 755.7,430.4 752.8,429.8 752.8,425.4 751.8,421.6 749.6,418.7 746.4,415.8 744.4,412.3 741.8,410.5 740.3,412.3 737.1,412.8 735.1,412.8 732.2,414.0 732.1,416.6 731.0,418.4 727.9,420.1 725.7,423.1 722.4,426.9 719.5,428.9 717.2,431.2 717.1,435.6 717.9,438.5 716.9,442.9 717.1,446.4 715.3,449.3 713.3,450.5 711.6,452.8 708.9,450.2 707.3,445.8 705.3,442.0 703.8,438.5 702.4,434.2 700.6,430.7 698.9,426.9 697.7,422.5 696.9,419.6 696.1,415.2 695.6,412.3 694.8,414.6 691.9,415.8 689.3,415.2 686.4,411.7 689.5,409.6 685.5,408.5 682.1,406.7 679.9,403.5 676.5,402.6 671.5,402.9 666.6,403.2 661.4,402.3 657.1,401.5 654.1,397.7 650.9,398.5 648.5,398.8 644.6,397.7 641.3,395.3 638.4,392.4 636.7,388.9 633.4,387.7 632.1,389.2 631.0,390.6 633.4,393.9 635.2,396.8 637.5,398.8 638.0,401.5 639.7,404.1 640.5,401.2 641.6,402.6 641.6,405.2 644.2,406.1 648.0,406.1 650.9,402.9 652.9,400.0 653.8,403.5 655.6,406.4 659.7,407.6 663.1,410.8 661.0,416.3 658.9,421.0 656.1,423.9 652.9,426.0 649.7,427.1 645.4,430.7 641.2,432.7 637.5,435.3 633.7,436.8 628.7,438.5 626.1,439.4 623.6,439.4 622.7,437.1 621.5,433.3 621.0,428.9 619.0,425.1 616.2,421.0 613.4,417.2 611.0,414.0 610.0,409.9 607.2,405.8 605.5,402.9 603.5,400.0 600.7,396.2 598.5,394.4 598.9,390.4 597.8,394.2 597.4,395.6 595.8,394.2 594.1,391.8 592.9,389.2M592.9,389.2 592.5,390.4 594.8,394.2 596.5,397.1 598.6,401.2 601.4,406.4 602.1,409.3 605.3,412.3 606.2,415.2 606.4,419.0 610.0,423.4 612.0,428.3 613.5,431.8 616.9,434.2 620.7,438.0 622.8,440.0 623.2,442.3 626.4,445.8 630.2,445.0 635.3,443.8 640.4,442.9 643.4,441.7 643.1,445.8 641.4,450.2 639.1,456.6 635.8,462.8 632.0,467.7 627.4,472.1 623.1,476.5 620.0,480.9 616.6,483.8 614.7,488.2 612.6,491.1 612.0,494.9 613.8,498.4 613.2,502.2 614.8,506.3 616.1,508.6 615.6,513.6 616.4,518.8 615.5,522.6 612.8,525.0 608.9,527.0 605.7,529.1 603.5,532.0 600.3,534.3 600.7,537.8 601.7,541.6 601.2,546.6 597.5,549.2 594.4,551.0 594.3,555.3 592.7,559.7 589.7,562.9 586.8,567.6 582.8,571.4 578.9,574.3 574.8,575.8 570.7,576.1 566.3,576.1 560.7,578.1 557.9,576.7 556.8,574.3 556.8,569.9 554.8,565.6 553.1,560.3 550.0,555.3 549.5,549.5 548.4,542.2 545.9,537.8 543.8,532.0 542.1,527.6 542.1,523.2 543.5,517.4 546.6,513.0 547.5,508.6 546.5,503.7 545.5,499.9 544.0,494.3 543.0,491.1 540.9,488.2 537.8,485.3 536.0,482.3 534.7,478.8 536.3,475.9 537.1,472.1 537.3,467.7 536.5,464.8 533.9,463.4 530.6,463.7 527.5,463.9 525.4,460.4 523.1,458.1 518.4,458.1 514.6,459.3 510.7,461.0 506.8,462.8 503.7,461.6 499.1,461.3 495.2,462.8 492.4,463.7 488.8,461.6 484.9,458.1 482.4,456.4 479.8,454.6 478.0,451.7 477.8,448.8 474.7,445.8 473.5,444.4 470.9,442.3 469.2,440.3 468.9,437.4 467.2,433.6 469.1,430.7 470.4,426.9 471.0,422.5 470.1,419.6 470.7,416.6 468.9,415.2 469.3,412.3 471.2,407.9 473.0,404.4 475.1,401.2 476.9,398.8 479.0,395.6 482.1,394.4 485.1,392.4 487.9,389.5 487.8,385.1 489.4,381.6 492.4,378.7 495.4,377.2 497.4,372.8 498.9,371.7 501.1,373.7 504.7,373.4 507.1,374.0 509.6,372.3 513.2,370.8 516.8,369.6 520.5,368.8 525.3,369.0 530.1,368.5 533.7,368.2 536.1,367.6 538.6,368.5 537.4,370.5 538.0,372.8 536.9,376.3 538.9,378.4 542.2,380.7 545.1,380.4 549.6,382.2 551.0,385.1 555.3,386.6 559.1,388.0 561.4,386.0 561.2,382.2 564.8,380.4 568.5,381.3 572.4,383.1 574.2,384.2 578.7,384.8 583.7,386.3 586.6,385.1 589.0,384.2 591.8,385.4M638.5,511.5 639.9,515.9 640.8,521.2 639.0,522.6 638.2,527.0 636.5,532.0 634.2,539.3 632.3,545.1 630.1,549.5 626.2,551.0 622.6,549.5 621.7,545.1 621.5,540.7 624.4,534.9 623.9,530.5 625.1,524.7 628.2,522.9 631.6,521.2 634.3,518.8 635.8,515.3 638.5,511.5ZM717.8,447.9 721.0,451.4 722.8,455.5 721.6,458.1 718.8,459.0 717.6,454.6 717.7,450.8 717.8,447.9ZM621.6,343.9 623.3,341.3 627.2,340.1 630.9,339.6 634.0,341.0 634.5,344.4 631.0,344.4 630.4,346.7 628.9,347.0 632.0,350.2 635.2,351.9 636.2,355.1 638.8,357.4 637.9,359.7 639.8,361.8 641.6,365.6 642.0,367.9 637.7,369.0 633.8,367.9 630.3,365.6 629.1,363.2 629.6,359.7 631.5,358.6 629.2,356.8 627.0,354.2 624.1,351.6 622.3,348.8 620.6,346.5 621.6,343.9ZM648.2,348.2 649.3,343.9 651.9,340.7 653.8,343.3 652.5,346.7 650.7,348.8 648.2,348.2ZM742.0,326.6 744.5,326.3 746.4,324.0 748.9,321.2 748.8,317.1 747.0,314.9 746.3,316.5 746.6,320.4 744.8,323.2 742.9,325.4 742.0,326.6ZM681.7,343.9 685.1,340.7 690.8,340.7 693.6,341.9 686.9,342.4 683.3,345.3 681.7,343.9ZM594.1,475.9 597.2,475.3 599.8,476.2 600.3,479.4 598.5,482.9 596.7,484.7 594.4,484.1 593.9,480.0 594.1,475.9ZM587.6,486.4 588.6,489.6 589.1,494.0 591.3,498.4 591.8,501.9 590.5,500.4 588.0,495.5 587.3,489.6 587.6,486.4ZM599.5,504.2 601.2,507.2 601.3,511.5 602.2,515.9 601.6,518.3 600.4,516.8 599.8,511.5 599.6,507.2 599.5,504.2ZM529.5,256.3 534.5,255.3 539.3,255.3 544.7,254.5 552.0,254.9 555.4,255.5 548.0,257.7 546.7,259.0 542.9,260.5 540.8,262.2 537.3,261.3 534.4,259.4 530.8,257.7 529.5,256.3ZM607.1,275.0 611.3,275.9 617.5,276.2 615.5,273.5 611.9,270.2 614.8,267.7 617.8,265.6 623.0,263.3 627.9,262.0 628.1,263.3 622.8,265.4 618.4,267.9 614.4,270.0 612.2,272.3 608.9,273.0 607.1,275.0ZM668.7,257.3 673.0,255.7 680.9,256.7 685.4,258.8 677.9,259.4 668.7,257.3ZM749.2,265.4 751.8,263.8 762.3,264.9 772.1,265.6 770.5,266.7 759.7,266.5 753.0,266.7 749.2,265.4ZM181.8,275.4 187.5,274.2 187.2,275.0 182.4,275.7M587.1,254.7 594.2,253.5 603.5,253.3 610.5,254.1 601.9,255.3 592.4,255.5 587.1,254.7ZM542.0,365.6 544.4,365.3 549.5,365.0 548.7,368.5 548.3,369.3 545.8,368.8 542.3,366.7 542.0,365.6ZM531.4,356.6 534.7,356.6 535.2,361.2 533.5,362.4 532.1,362.4 532.0,358.9 531.4,356.6ZM532.2,352.8 534.0,351.1 534.4,353.9 533.7,355.7 532.5,354.5 532.2,352.8ZM569.3,372.5 572.8,373.1 576.0,373.7 572.9,374.3 569.4,373.7 569.3,372.5ZM590.6,374.0 593.4,373.1 596.0,372.3 594.6,374.6 591.8,375.5 590.6,374.0ZM845.9,355.7 850.8,360.9 851.7,364.7 851.7,367.0 853.0,369.9 853.9,372.3 852.9,374.3 851.8,372.8 850.5,374.3 849.9,375.2 846.9,375.5 845.4,374.3 846.1,376.3 845.0,378.4 842.8,377.8 842.0,375.5 838.9,375.5 835.6,376.3 832.3,377.2 831.7,375.8 834.2,373.1 837.7,372.8 841.2,372.5 841.4,370.5 842.1,367.9 842.8,367.0 843.1,369.0 846.0,367.6 846.9,364.7 846.0,360.9 844.1,357.7 843.9,356.3 845.9,355.7ZM832.4,377.5 835.2,379.5 836.3,384.5 835.0,385.7 832.7,383.1 830.1,379.5 831.3,377.8 832.4,377.5ZM836.2,377.8 839.7,376.3 841.6,377.8 840.4,379.0 838.7,380.7 836.7,379.5 836.2,377.8ZM843.4,355.4 843.2,352.5 845.4,352.2 849.3,353.9 850.5,351.1 852.2,350.2 850.0,347.6 848.1,348.2 844.3,347.0 839.5,343.9 840.8,346.7 842.7,350.2 840.5,350.5 841.9,353.1 843.4,355.4ZM821.2,319.0 825.5,322.6 829.8,326.8 834.4,331.1 838.2,333.9 834.4,333.3 836.9,337.3 840.8,340.4 839.2,340.7 838.8,342.4 835.7,338.1 832.8,333.9 829.5,329.6 825.3,325.4 822.6,321.8 821.2,319.0ZM817.3,402.9 818.9,404.7 818.3,408.8 817.7,412.3 815.5,409.9 815.1,407.0 816.2,403.8 817.3,402.9ZM792.6,417.8 793.8,419.3 793.0,421.9 790.9,423.4 788.5,422.2 788.1,419.8 789.8,418.1 792.6,417.8ZM819.0,422.5 822.9,422.8 824.1,426.9 823.5,429.2 822.5,431.2 823.6,435.0 826.5,435.9 830.0,439.4 829.5,437.1 827.2,437.7 825.7,435.9 822.5,436.8 820.7,434.7 819.5,433.3 818.2,429.8 819.0,428.3 818.8,425.4 819.0,422.5ZM834.8,447.9 837.2,451.7 837.9,455.2 837.1,457.8 835.4,459.9 835.5,456.6 832.2,458.1 831.5,455.2 829.6,454.6 826.7,456.4 826.7,453.4 829.7,451.4 832.5,451.4 834.8,447.9ZM830.9,440.0 833.4,440.0 834.9,443.8 833.9,446.7 832.7,445.0 831.7,442.9 830.9,440.0ZM826.8,445.3 829.3,444.7 829.0,449.3 827.1,448.8 826.8,445.3ZM825.2,442.0 827.9,442.9 827.1,445.8 825.6,445.5 825.2,442.0ZM813.7,452.0 816.4,449.3 819.1,445.3 818.9,443.5 816.7,447.3 813.9,450.8 813.7,452.0ZM820.5,437.4 823.1,437.7 823.2,440.6 821.9,440.3 820.5,437.4ZM793.5,472.1 795.3,470.7 798.7,471.8 799.6,468.9 803.7,467.2 806.2,463.4 809.9,460.4 813.0,456.1 815.4,458.1 819.5,461.3 817.0,463.9 815.8,466.3 816.2,469.8 819.1,473.6 816.3,474.5 815.5,478.8 812.9,481.8 812.2,485.3 811.4,487.9 808.0,488.5 805.0,486.1 800.6,486.7 796.5,485.0 796.1,480.9 794.1,478.3 793.6,475.0 793.5,472.1ZM757.8,460.1 763.5,461.3 766.7,465.4 771.0,469.2 774.1,471.2 778.1,474.5 780.1,478.8 781.9,482.3 785.7,485.3 785.3,489.6 784.8,493.4 781.7,493.4 779.8,490.8 776.0,488.2 772.8,483.8 771.1,478.8 767.7,475.0 766.4,471.2 762.9,467.7 758.4,462.5 757.8,460.1ZM783.1,496.4 786.6,494.0 791.7,495.8 797.4,495.2 802.4,496.6 806.9,499.0 806.5,501.6 801.6,501.0 795.3,500.2 790.2,499.3 786.1,498.1 783.1,496.4ZM821.5,475.0 824.0,472.7 829.7,473.6 834.8,471.5 833.6,475.0 829.7,475.3 824.6,475.0 822.5,479.1 825.8,479.1 830.5,478.8 828.4,481.5 825.8,482.3 827.7,486.1 829.4,489.6 828.0,492.0 826.0,490.5 824.4,485.3 822.6,485.3 822.5,492.6 820.2,492.6 820.5,486.7 818.7,484.7 820.1,480.3 821.5,475.0ZM850.1,479.1 854.3,477.7 858.1,478.8 858.5,483.8 860.5,486.1 864.5,482.9 868.4,481.2 876.1,484.1 882.4,486.7 886.2,489.3 888.6,492.6 892.3,494.0 892.9,496.9 894.3,501.3 897.7,506.3 899.6,507.5 895.1,506.3 891.3,505.7 889.1,502.2 885.5,499.3 881.5,500.7 880.0,503.4 876.1,503.4 871.2,500.4 867.8,501.0 869.7,496.9 867.9,492.6 862.9,489.9 857.8,487.9 855.2,488.2 854.8,485.8 852.8,484.7 856.7,483.2 853.7,482.3 850.3,480.6 850.1,479.1ZM894.5,492.9 899.0,491.1 903.0,488.8 905.0,489.1 904.1,492.0 900.0,494.6 896.1,494.6 894.5,492.9ZM901.4,484.1 905.6,487.6 906.7,490.2M911.0,492.6 913.6,496.1M915.8,496.9 923.4,501.0M922.9,503.7 925.5,505.4M926.0,501.3 926.9,504.5M938.1,520.3 939.2,522.3 938.2,522.1 938.1,520.3ZM939.3,523.2 940.2,524.7M928.1,535.2 931.2,537.8 934.0,541.6 932.2,541.0 928.8,537.5 928.1,535.2ZM963.8,527.6 966.9,528.2 965.5,529.6 963.4,529.1 963.8,527.6ZM968.2,525.0 971.3,523.8M829.5,506.6 833.6,503.4 839.0,501.0 837.5,502.8 833.4,505.7 829.5,506.6ZM820.4,501.3 824.8,501.0 828.7,500.7 828.1,502.2 823.4,502.5 820.4,501.3ZM812.7,501.0 816.6,500.7 818.4,501.3 815.7,502.5 812.6,502.5 812.7,501.0ZM806.8,500.4 809.9,500.4 812.5,501.0 810.5,502.5 808.0,501.9 806.8,500.4ZM818.1,504.2 822.6,505.7 820.5,506.6 818.1,504.2ZM841.3,470.7 842.6,473.6 844.4,472.7 842.6,475.0 843.9,478.5 841.9,476.5 841.3,473.6 841.3,470.7ZM842.5,485.3 846.3,485.0 849.6,486.4 846.3,486.4 842.4,486.1 842.5,485.3ZM837.3,485.8 840.4,486.1 839.0,487.6 837.3,485.8ZM878.2,507.7 880.1,513.0 880.1,518.3 883.7,520.0 883.3,524.7 883.7,531.4 886.6,533.4 889.0,536.1 890.0,540.7 892.5,544.2 895.0,548.9 896.2,552.4 894.7,556.8 894.4,560.3 890.5,566.4 887.3,570.8 883.4,573.7 879.2,578.7 875.0,583.1 873.2,586.0 867.9,587.2 862.0,590.4 860.1,588.3 855.7,589.8 851.5,588.6 849.3,586.0 850.1,583.1 850.0,580.7 847.7,580.5 849.7,577.8 847.3,579.3 848.2,575.8 850.5,572.9 848.8,574.3 845.1,577.2 842.6,578.4 842.1,575.8 841.4,572.9 838.4,569.9 835.3,568.5 830.2,568.8 824.6,570.5 819.0,572.3 814.8,575.5 809.2,575.5 804.0,576.4 799.4,578.7 795.7,578.7 792.8,576.7 794.2,574.3 797.0,569.9 797.0,564.7 797.3,559.7 796.3,553.9 797.0,549.5 798.7,545.1 799.6,541.6 801.6,540.2 805.9,537.5 809.8,536.7 813.9,534.9 819.2,533.7 823.0,529.6 823.6,526.1 826.8,527.0 827.8,524.1 831.0,521.2 834.0,518.3 837.3,517.1 839.9,520.0 843.2,520.0 844.6,516.2 847.3,513.0 850.7,512.1 852.5,510.1 855.9,511.5 859.7,511.8 863.0,512.1 861.1,515.3 858.9,519.7 861.2,522.6 864.6,525.0 867.4,527.6 870.8,527.6 873.6,521.8 874.8,515.9 876.0,511.5 877.3,508.6 878.2,507.7ZM855.3,595.3 858.8,596.4 863.4,595.9 861.0,599.6 857.8,602.5 854.0,603.7 853.2,601.4 854.4,598.5 855.3,595.3ZM933.6,577.0 935.6,580.2 936.4,583.7 936.3,586.3 941.4,586.3 937.6,590.4 934.5,591.8 931.8,594.7 928.2,597.0 925.6,597.9 925.1,597.0 928.7,593.8 927.8,592.1 927.2,591.2 930.4,589.5 933.5,585.4 933.9,582.5 933.3,578.7 933.6,577.0ZM922.1,594.7 923.6,596.2 923.3,598.2 917.7,601.9 914.9,604.2 910.2,605.7 905.5,610.0 900.9,612.3 897.9,612.3 895.4,610.6 898.6,607.7 904.0,604.8 910.9,601.9 915.5,599.1 919.8,595.9 922.1,594.7ZM297.1,707.1 289.6,706.1 277.3,704.1 263.6,701.5 251.0,698.7 242.2,696.9 244.3,695.7 238.4,694.5 244.1,694.0 246.8,692.1 255.7,691.4 259.4,688.8 269.2,687.4 279.0,685.8 290.9,684.2 303.8,684.6 315.8,685.8 328.9,686.5 332.6,683.5 342.1,682.3 354.6,682.3 368.1,683.5 375.7,681.8 384.2,681.1 386.5,676.4 384.7,670.2 385.8,665.2 389.9,661.8 395.3,658.5 398.5,659.0 395.0,662.1 392.6,665.2 390.7,669.0 396.2,673.9 400.6,680.0 405.3,684.6 403.2,688.1 396.4,690.3 408.8,693.2 425.7,693.6 442.3,693.6 452.3,693.6 459.6,691.0 467.1,688.1 474.9,684.2 483.3,681.8 491.9,678.3 501.0,676.8 512.0,674.4 523.1,675.6 534.3,675.1 545.5,674.7 558.2,675.9 569.9,673.9 576.0,672.2 582.7,674.7 589.4,671.5 599.8,669.2 608.0,667.7 617.0,664.9 623.4,667.7 630.3,669.2 639.6,669.7 643.9,672.0 647.8,674.7 656.6,672.7 662.1,670.2 669.7,667.5 679.8,666.7 689.5,666.7 699.8,665.9 708.5,664.7 714.6,666.7 724.9,665.9 732.4,666.2 738.7,667.7 747.1,666.9 757.6,666.2 765.8,665.7 773.9,665.4 780.2,666.7 786.7,667.7 790.0,669.7 795.7,671.2 802.4,673.2 808.0,675.9 815.7,676.8 822.0,679.2 812.2,683.5 799.0,686.9 786.9,691.4 782.8,694.2 772.6,696.7 764.5,699.7 761.4,702.4 764.9,704.1 772.5,705.2 780.1,705.6M376.7,626.2 381.0,625.6 383.9,626.4 381.8,628.1 378.5,628.1 376.7,626.2ZM429.4,633.1 434.0,634.5M667.3,619.1 670.5,619.7 668.3,620.8 667.3,619.1ZM353.2,445.3 355.5,445.0 355.2,447.0 352.8,447.0 353.2,445.3ZM649.0,439.7 651.8,440.0M613.3,493.4 613.8,495.2M652.1,537.8 653.0,538.4M657.6,535.5 658.3,536.1M623.2,510.7 623.7,511.3M444.4,363.8 445.1,363.5M449.9,366.1 451.4,366.1M469.9,393.9 471.6,393.3M472.6,394.7 473.6,394.7M476.6,393.3 478.2,391.8M451.4,432.7 451.9,432.1M497.4,298.2 498.5,297.4M509.1,303.2 509.7,301.9M275.9,479.1 276.9,477.7M130.9,527.9 132.0,528.5M69.5,516.2 70.9,516.5M550.6,311.6 552.0,309.2M547.2,313.5 548.0,310.8M536.1,316.3 538.8,314.9 538.3,316.8 536.1,316.3ZM574.9,303.5 578.9,302.7 578.9,300.3 575.0,299.5 573.3,300.8 574.9,303.5ZM582.5,300.8 585.3,300.0 583.5,296.9 581.6,297.4 582.5,300.8ZM538.2,307.5 540.8,307.0 540.0,305.4 538.4,305.9 538.2,307.5ZM573.9,362.1 575.3,362.1M579.4,371.4 580.3,370.2M567.5,362.9 570.9,365.3M517.7,360.9 520.1,360.3 519.2,361.8 517.7,360.9ZM316.7,398.8 318.6,399.1M316.2,405.0 316.5,407.0M325.8,415.2 327.2,414.6M367.2,331.6 372.2,333.3M365.0,340.1 369.7,341.3M185.3,310.8 190.9,309.4 186.2,311.9 185.3,310.8ZM222.7,319.9 224.9,320.4 222.6,324.6 221.5,322.6 222.7,319.9ZM170.2,294.3 174.1,295.0M168.1,303.0 169.9,303.5M149.6,320.1 145.3,321.5M141.2,322.9 137.0,323.8M130.3,324.9 126.7,325.1M121.4,326.0 118.3,326.3M909.0,326.8 904.2,325.4M859.9,330.2 859.8,328.8M859.6,339.6 859.7,338.1M854.0,344.4 856.0,342.4M851.6,347.6 852.7,345.9M409.7,279.1 415.2,278.3 414.0,277.1 409.7,279.1ZM337.1,598.8 339.3,600.5 339.5,603.1 337.7,601.9 337.1,598.8ZM327.7,445.8 329.4,448.8 327.5,449.3 326.9,447.3 327.7,445.8ZM333.1,521.8 335.9,524.1M342.8,264.9 335.9,264.9 338.6,262.7 344.6,262.7 342.8,264.9ZM315.9,263.1 303.0,263.8 306.9,261.1 315.6,260.9 315.9,263.1ZM345.5,259.8 337.2,259.8 342.3,257.3 348.0,257.9 345.5,259.8ZM349.4,266.1 345.0,266.1 348.3,264.7 349.4,266.1ZM376.1,270.7 368.6,271.2 369.4,269.1 374.0,268.8 376.1,270.7ZM368.7,284.0 364.6,284.5 366.1,282.3 368.9,282.3 368.7,284.0ZM344.5,297.4 348.4,296.1 346.6,295.8 344.5,297.4ZM349.5,299.2 351.6,297.4M332.5,322.9 335.6,322.4M279.0,307.3 287.7,305.4 283.1,305.9 279.0,307.3ZM293.7,313.0 298.3,309.4M311.8,332.5 314.0,331.1M547.9,438.5 549.9,437.7M605.0,469.2 605.4,463.9M291.2,442.0 293.7,443.8M691.3,352.8 695.7,352.5M613.9,364.1 616.2,363.5M621.0,367.6 621.8,365.0"/>
</g>
<g shape-rendering="crispEdges"><rect x="274.00" y="779" width="35.07" height="45.5" fill="#543005"/><rect x="309.07" y="779" width="35.07" height="45.5" fill="#7c4e15"/><rect x="344.14" y="779" width="35.07" height="45.5" fill="#a56b23"/><rect x="379.21" y="779" width="35.07" height="45.5" fill="#c58f44"/><rect x="414.28" y="779" width="35.07" height="45.5" fill="#d5ac75"/><rect x="449.35" y="779" width="35.07" height="45.5" fill="#e4cba9"/><rect x="484.42" y="779" width="35.07" height="45.5" fill="#f1e8dc"/><rect x="519.49" y="779" width="35.07" height="45.5" fill="#dfecea"/><rect x="554.56" y="779" width="35.07" height="45.5" fill="#acd4cf"/><rect x="589.63" y="779" width="35.07" height="45.5" fill="#7ebbb4"/><rect x="624.70" y="779" width="35.07" height="45.5" fill="#4ba299"/><rect x="659.77" y="779" width="35.07" height="45.5" fill="#26837a"/><rect x="694.84" y="779" width="35.07" height="45.5" fill="#136157"/><rect x="729.91" y="779" width="35.07" height="45.5" fill="#003c30"/></g>
<g stroke="#222" stroke-width="0.75" fill="none"><line x1="309.07" y1="779" x2="309.07" y2="824.5"/><line x1="344.14" y1="779" x2="344.14" y2="824.5"/><line x1="379.21" y1="779" x2="379.21" y2="824.5"/><line x1="414.28" y1="779" x2="414.28" y2="824.5"/><line x1="449.35" y1="779" x2="449.35" y2="824.5"/><line x1="484.42" y1="779" x2="484.42" y2="824.5"/><line x1="519.49" y1="779" x2="519.49" y2="824.5"/><line x1="554.56" y1="779" x2="554.56" y2="824.5"/><line x1="589.63" y1="779" x2="589.63" y2="824.5"/><line x1="624.70" y1="779" x2="624.70" y2="824.5"/><line x1="659.77" y1="779" x2="659.77" y2="824.5"/><line x1="694.84" y1="779" x2="694.84" y2="824.5"/><line x1="729.91" y1="779" x2="729.91" y2="824.5"/><rect x="274" y="779" width="491" height="45.5" stroke="#555" stroke-width="0.75"/></g>
<g font-size="18.2"><text x="309.1" y="852.6" text-anchor="middle">-12</text><text x="344.1" y="852.6" text-anchor="middle">-10</text><text x="379.2" y="852.6" text-anchor="middle">-8</text><text x="414.3" y="852.6" text-anchor="middle">-6</text><text x="449.4" y="852.6" text-anchor="middle">-4</text><text x="484.4" y="852.6" text-anchor="middle">-2</text><text x="519.5" y="852.6" text-anchor="middle">0</text><text x="554.6" y="852.6" text-anchor="middle">2</text><text x="589.6" y="852.6" text-anchor="middle">4</text><text x="624.7" y="852.6" text-anchor="middle">6</text><text x="659.8" y="852.6" text-anchor="middle">8</text><text x="694.8" y="852.6" text-anchor="middle">10</text><text x="729.9" y="852.6" text-anchor="middle">12</text></g>
<text id="unit" x="782" y="822" font-size="23.6">(% per <tspan dy="-4" font-size="19.5" dx="0.5">&#176;</tspan><tspan dy="4" dx="1.2">C)</tspan></text>
</svg>
</body></html>
